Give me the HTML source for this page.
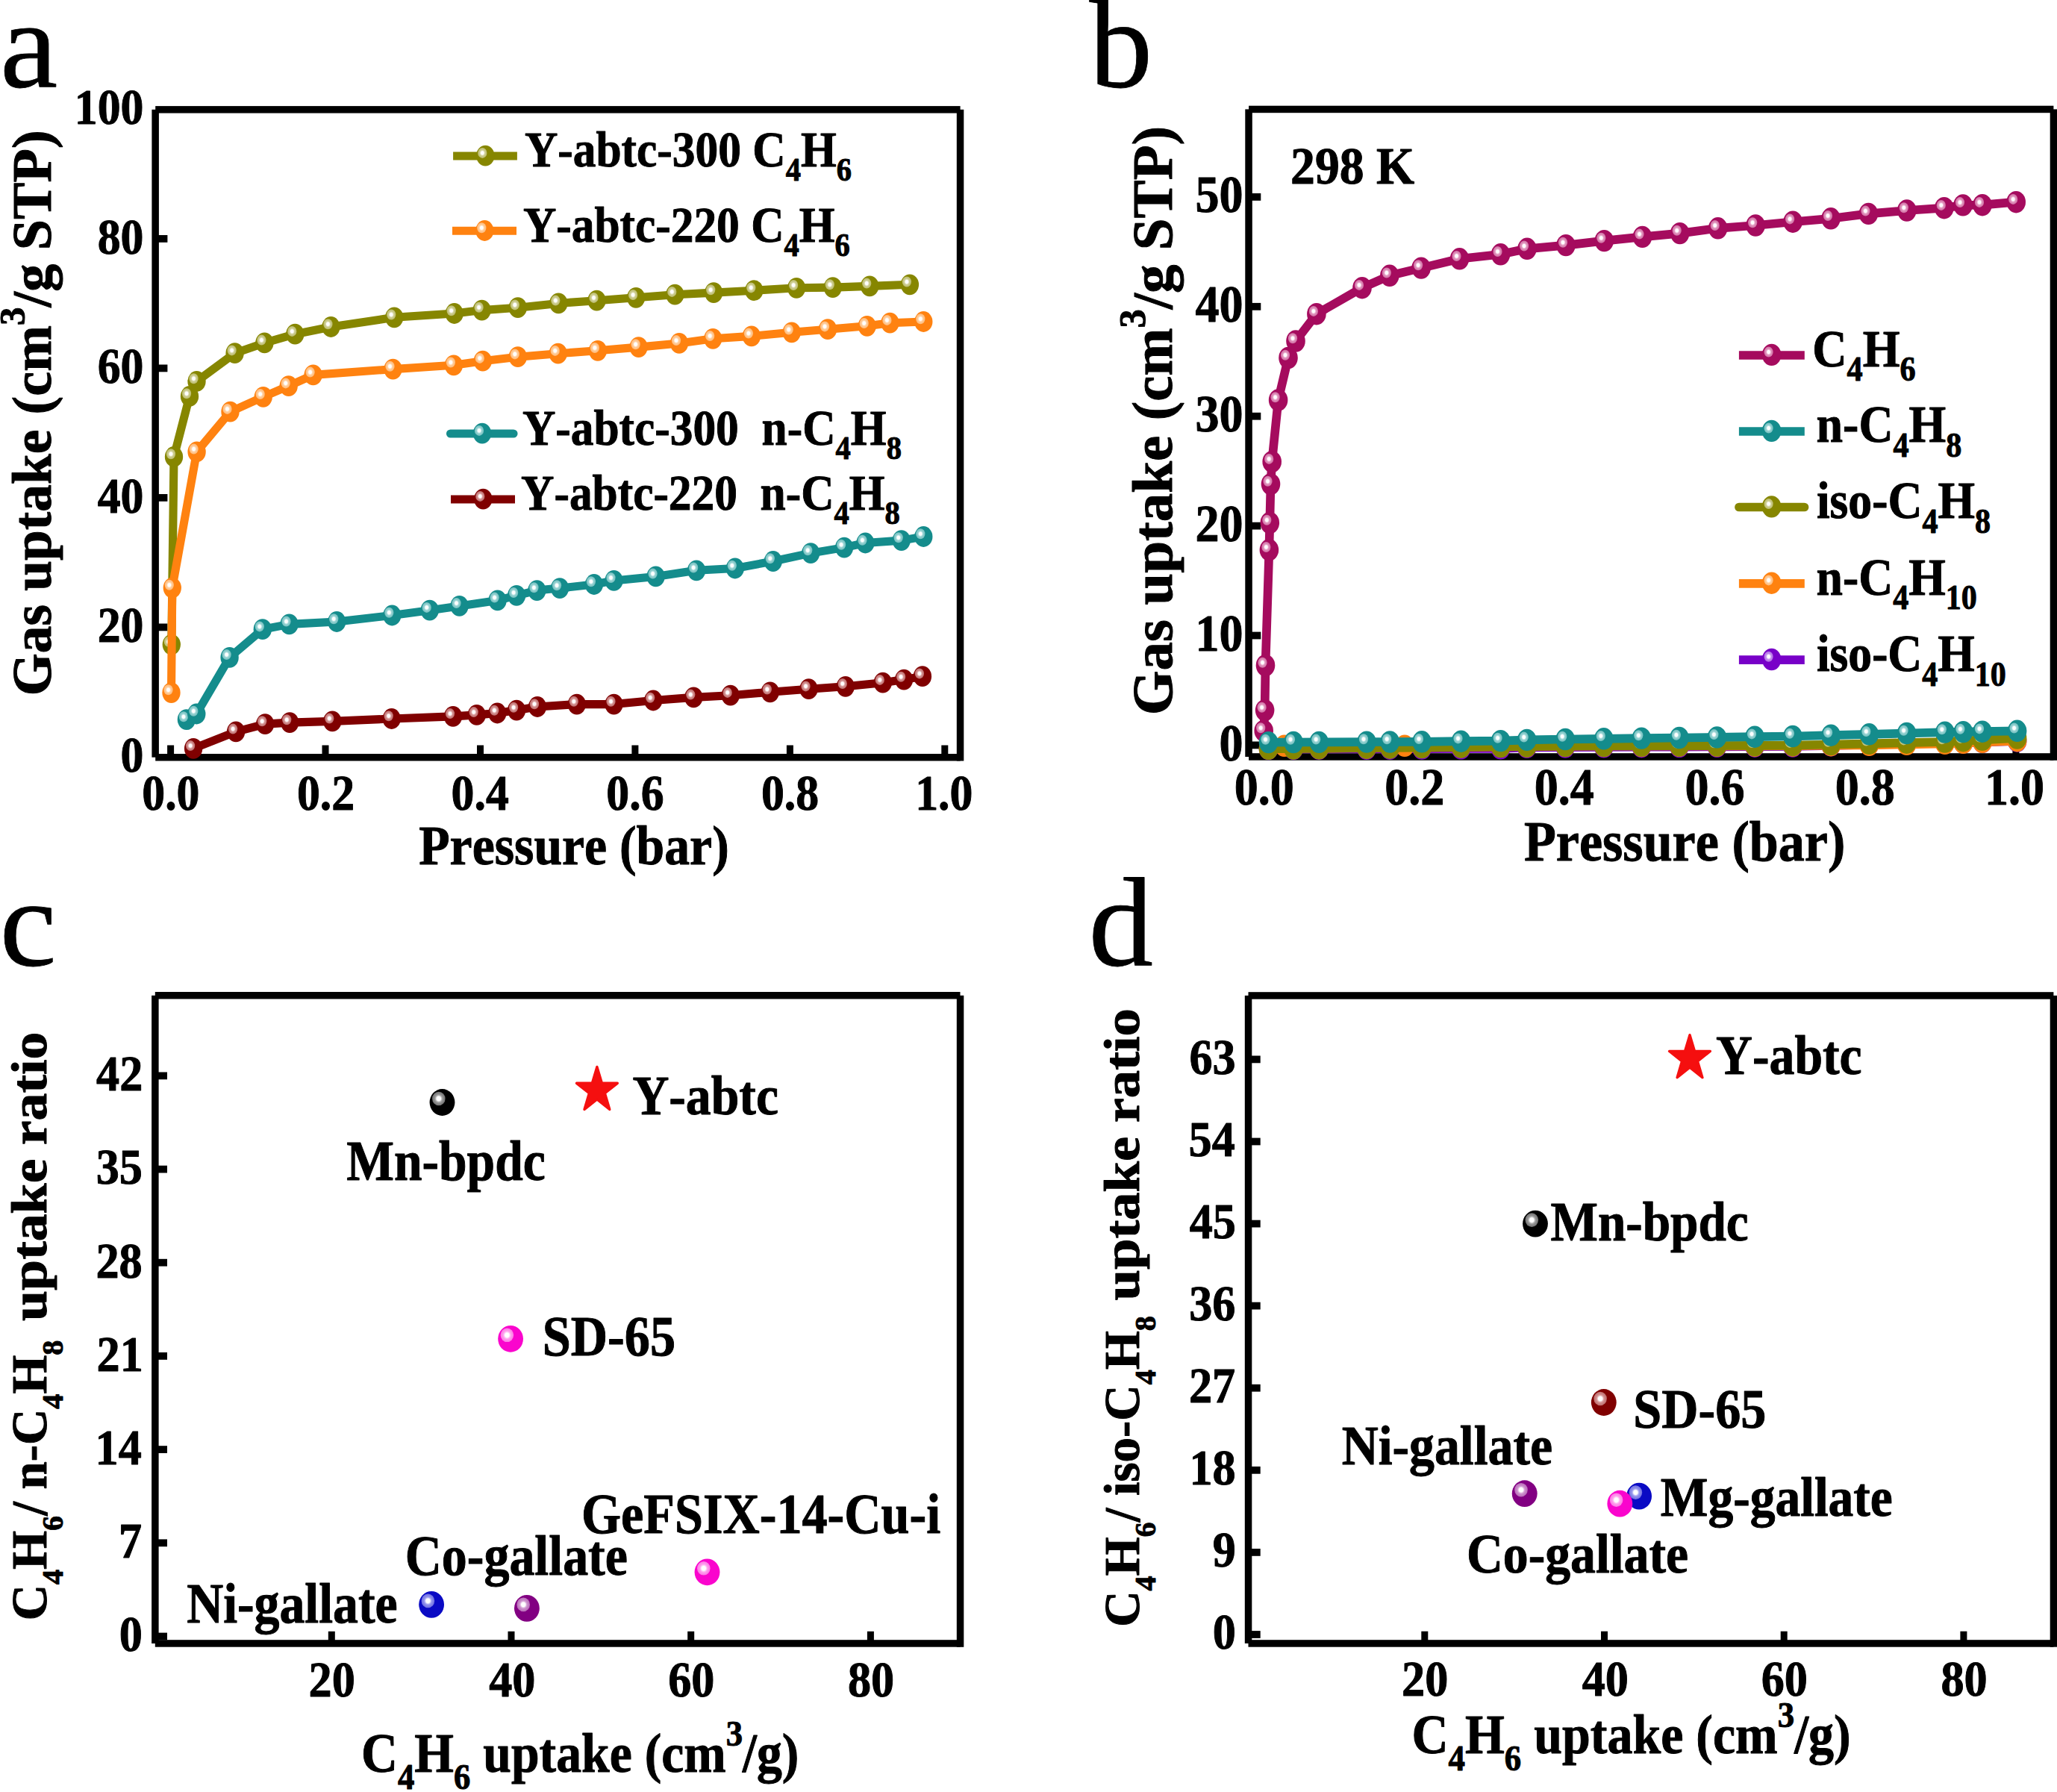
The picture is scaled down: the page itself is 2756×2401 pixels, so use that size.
<!DOCTYPE html>
<html><head><meta charset="utf-8"><title>Figure</title><style>html,body{margin:0;padding:0;background:#fff}svg{display:block}</style></head><body>
<svg width="2756" height="2401" viewBox="0 0 2756 2401">
<rect width="2756" height="2401" fill="#fff"/>
<defs><radialGradient id="g_olive" cx="0.5" cy="0.5" r="0.5"><stop offset="0" stop-color="#ffffff"/><stop offset="0.30" stop-color="#ffffff"/><stop offset="0.50" stop-color="#dcdcb0" stop-opacity="0.95"/><stop offset="0.62" stop-color="#dcdcb0" stop-opacity="0.80"/><stop offset="1" stop-color="#dcdcb0" stop-opacity="0.62"/></radialGradient><radialGradient id="g_orange" cx="0.5" cy="0.5" r="0.5"><stop offset="0" stop-color="#ffffff"/><stop offset="0.30" stop-color="#ffffff"/><stop offset="0.50" stop-color="#ffdcb8" stop-opacity="0.95"/><stop offset="0.62" stop-color="#ffdcb8" stop-opacity="0.80"/><stop offset="1" stop-color="#ffdcb8" stop-opacity="0.62"/></radialGradient><radialGradient id="g_teal" cx="0.5" cy="0.5" r="0.5"><stop offset="0" stop-color="#ffffff"/><stop offset="0.30" stop-color="#ffffff"/><stop offset="0.50" stop-color="#b0e0e0" stop-opacity="0.95"/><stop offset="0.62" stop-color="#b0e0e0" stop-opacity="0.80"/><stop offset="1" stop-color="#b0e0e0" stop-opacity="0.62"/></radialGradient><radialGradient id="g_dred" cx="0.5" cy="0.5" r="0.5"><stop offset="0" stop-color="#ffffff"/><stop offset="0.30" stop-color="#ffffff"/><stop offset="0.50" stop-color="#e4b0b0" stop-opacity="0.95"/><stop offset="0.62" stop-color="#e4b0b0" stop-opacity="0.80"/><stop offset="1" stop-color="#e4b0b0" stop-opacity="0.62"/></radialGradient><radialGradient id="g_mag" cx="0.5" cy="0.5" r="0.5"><stop offset="0" stop-color="#ffffff"/><stop offset="0.30" stop-color="#ffffff"/><stop offset="0.50" stop-color="#ecb0d0" stop-opacity="0.95"/><stop offset="0.62" stop-color="#ecb0d0" stop-opacity="0.80"/><stop offset="1" stop-color="#ecb0d0" stop-opacity="0.62"/></radialGradient><radialGradient id="g_purple" cx="0.5" cy="0.5" r="0.5"><stop offset="0" stop-color="#ffffff"/><stop offset="0.30" stop-color="#ffffff"/><stop offset="0.50" stop-color="#d4b0f4" stop-opacity="0.95"/><stop offset="0.62" stop-color="#d4b0f4" stop-opacity="0.80"/><stop offset="1" stop-color="#d4b0f4" stop-opacity="0.62"/></radialGradient><radialGradient id="g_black" cx="0.5" cy="0.5" r="0.5"><stop offset="0" stop-color="#ffffff"/><stop offset="0.30" stop-color="#ffffff"/><stop offset="0.50" stop-color="#b8b8b8" stop-opacity="0.95"/><stop offset="0.62" stop-color="#b8b8b8" stop-opacity="0.80"/><stop offset="1" stop-color="#b8b8b8" stop-opacity="0.62"/></radialGradient><radialGradient id="g_pink" cx="0.5" cy="0.5" r="0.5"><stop offset="0" stop-color="#ffffff"/><stop offset="0.30" stop-color="#ffffff"/><stop offset="0.50" stop-color="#ffc0f4" stop-opacity="0.95"/><stop offset="0.62" stop-color="#ffc0f4" stop-opacity="0.80"/><stop offset="1" stop-color="#ffc0f4" stop-opacity="0.62"/></radialGradient><radialGradient id="g_blue" cx="0.5" cy="0.5" r="0.5"><stop offset="0" stop-color="#ffffff"/><stop offset="0.30" stop-color="#ffffff"/><stop offset="0.50" stop-color="#b0b0f4" stop-opacity="0.95"/><stop offset="0.62" stop-color="#b0b0f4" stop-opacity="0.80"/><stop offset="1" stop-color="#b0b0f4" stop-opacity="0.62"/></radialGradient><radialGradient id="g_violet" cx="0.5" cy="0.5" r="0.5"><stop offset="0" stop-color="#ffffff"/><stop offset="0.30" stop-color="#ffffff"/><stop offset="0.50" stop-color="#dcb0dc" stop-opacity="0.95"/><stop offset="0.62" stop-color="#dcb0dc" stop-opacity="0.80"/><stop offset="1" stop-color="#dcb0dc" stop-opacity="0.62"/></radialGradient></defs>
<rect x="208.2" y="835.5" width="16.2" height="9.8" fill="#000"/>
<rect x="208.2" y="662.0" width="16.2" height="9.8" fill="#000"/>
<rect x="208.2" y="488.5" width="16.2" height="9.8" fill="#000"/>
<rect x="208.2" y="315.0" width="16.2" height="9.8" fill="#000"/>
<rect x="224.1" y="998.5" width="9.0" height="16.2" fill="#000"/>
<rect x="431.5" y="998.5" width="9.0" height="16.2" fill="#000"/>
<rect x="639.0" y="998.5" width="9.0" height="16.2" fill="#000"/>
<rect x="846.4" y="998.5" width="9.0" height="16.2" fill="#000"/>
<rect x="1053.9" y="998.5" width="9.0" height="16.2" fill="#000"/>
<rect x="1261.3" y="998.5" width="9.0" height="16.2" fill="#000"/>
<rect x="203.4" y="146.8" width="9.5" height="867.9" fill="#000"/><rect x="1281.8" y="146.8" width="9.5" height="872.7" fill="#000"/><rect x="208.2" y="142.1" width="1078.4" height="9.5" fill="#000"/><rect x="208.2" y="1010.0" width="1078.4" height="9.5" fill="#000"/>
<polyline points="259.1,1002.9 316.1,980.4 355.2,970.1 388.2,968.1 445.3,966.4 524.7,963.0 607.0,959.9 638.7,957.9 666.3,955.5 692.1,951.6 720.0,947.0 772.8,943.6 822.5,943.6 875.2,938.5 929.3,934.4 978.7,931.7 1031.8,927.3 1083.5,923.2 1132.8,919.8 1182.8,914.7 1211.1,910.6 1235.9,906.2" fill="none" stroke="#800000" stroke-width="11.1" stroke-linejoin="round" stroke-linecap="butt"/>
<ellipse cx="259.1" cy="1002.9" rx="12.16" ry="13.9" fill="#800000"/><ellipse cx="255.1" cy="999.1" rx="6.12" ry="7.0" fill="url(#g_dred)"/>
<ellipse cx="316.1" cy="980.4" rx="12.16" ry="13.9" fill="#800000"/><ellipse cx="312.1" cy="976.6" rx="6.12" ry="7.0" fill="url(#g_dred)"/>
<ellipse cx="355.2" cy="970.1" rx="12.16" ry="13.9" fill="#800000"/><ellipse cx="351.2" cy="966.3" rx="6.12" ry="7.0" fill="url(#g_dred)"/>
<ellipse cx="388.2" cy="968.1" rx="12.16" ry="13.9" fill="#800000"/><ellipse cx="384.2" cy="964.3" rx="6.12" ry="7.0" fill="url(#g_dred)"/>
<ellipse cx="445.3" cy="966.4" rx="12.16" ry="13.9" fill="#800000"/><ellipse cx="441.3" cy="962.6" rx="6.12" ry="7.0" fill="url(#g_dred)"/>
<ellipse cx="524.7" cy="963.0" rx="12.16" ry="13.9" fill="#800000"/><ellipse cx="520.7" cy="959.2" rx="6.12" ry="7.0" fill="url(#g_dred)"/>
<ellipse cx="607.0" cy="959.9" rx="12.16" ry="13.9" fill="#800000"/><ellipse cx="603.0" cy="956.1" rx="6.12" ry="7.0" fill="url(#g_dred)"/>
<ellipse cx="638.7" cy="957.9" rx="12.16" ry="13.9" fill="#800000"/><ellipse cx="634.7" cy="954.1" rx="6.12" ry="7.0" fill="url(#g_dred)"/>
<ellipse cx="666.3" cy="955.5" rx="12.16" ry="13.9" fill="#800000"/><ellipse cx="662.3" cy="951.7" rx="6.12" ry="7.0" fill="url(#g_dred)"/>
<ellipse cx="692.1" cy="951.6" rx="12.16" ry="13.9" fill="#800000"/><ellipse cx="688.1" cy="947.8" rx="6.12" ry="7.0" fill="url(#g_dred)"/>
<ellipse cx="720.0" cy="947.0" rx="12.16" ry="13.9" fill="#800000"/><ellipse cx="716.0" cy="943.2" rx="6.12" ry="7.0" fill="url(#g_dred)"/>
<ellipse cx="772.8" cy="943.6" rx="12.16" ry="13.9" fill="#800000"/><ellipse cx="768.8" cy="939.8" rx="6.12" ry="7.0" fill="url(#g_dred)"/>
<ellipse cx="822.5" cy="943.6" rx="12.16" ry="13.9" fill="#800000"/><ellipse cx="818.5" cy="939.8" rx="6.12" ry="7.0" fill="url(#g_dred)"/>
<ellipse cx="875.2" cy="938.5" rx="12.16" ry="13.9" fill="#800000"/><ellipse cx="871.2" cy="934.7" rx="6.12" ry="7.0" fill="url(#g_dred)"/>
<ellipse cx="929.3" cy="934.4" rx="12.16" ry="13.9" fill="#800000"/><ellipse cx="925.3" cy="930.6" rx="6.12" ry="7.0" fill="url(#g_dred)"/>
<ellipse cx="978.7" cy="931.7" rx="12.16" ry="13.9" fill="#800000"/><ellipse cx="974.7" cy="927.9" rx="6.12" ry="7.0" fill="url(#g_dred)"/>
<ellipse cx="1031.8" cy="927.3" rx="12.16" ry="13.9" fill="#800000"/><ellipse cx="1027.8" cy="923.5" rx="6.12" ry="7.0" fill="url(#g_dred)"/>
<ellipse cx="1083.5" cy="923.2" rx="12.16" ry="13.9" fill="#800000"/><ellipse cx="1079.5" cy="919.4" rx="6.12" ry="7.0" fill="url(#g_dred)"/>
<ellipse cx="1132.8" cy="919.8" rx="12.16" ry="13.9" fill="#800000"/><ellipse cx="1128.8" cy="916.0" rx="6.12" ry="7.0" fill="url(#g_dred)"/>
<ellipse cx="1182.8" cy="914.7" rx="12.16" ry="13.9" fill="#800000"/><ellipse cx="1178.8" cy="910.9" rx="6.12" ry="7.0" fill="url(#g_dred)"/>
<ellipse cx="1211.1" cy="910.6" rx="12.16" ry="13.9" fill="#800000"/><ellipse cx="1207.1" cy="906.8" rx="6.12" ry="7.0" fill="url(#g_dred)"/>
<ellipse cx="1235.9" cy="906.2" rx="12.16" ry="13.9" fill="#800000"/><ellipse cx="1231.9" cy="902.4" rx="6.12" ry="7.0" fill="url(#g_dred)"/>
<polyline points="249.9,964.1 263.3,956.5 307.6,880.9 351.8,843.2 387.5,836.4 451.2,833.0 525.3,824.5 575.7,817.7 615.5,811.9 666.6,804.4 692.1,797.8 719.4,791.1 750.0,788.1 795.9,783.0 822.5,777.9 878.6,772.4 933.1,764.3 984.8,761.5 1035.8,752.0 1086.2,741.1 1131.1,733.6 1159.4,727.5 1207.7,724.1 1237.3,719.0" fill="none" stroke="#148c8c" stroke-width="11.1" stroke-linejoin="round" stroke-linecap="butt"/>
<ellipse cx="249.9" cy="964.1" rx="12.16" ry="13.9" fill="#148c8c"/><ellipse cx="245.9" cy="960.3" rx="6.12" ry="7.0" fill="url(#g_teal)"/>
<ellipse cx="263.3" cy="956.5" rx="12.16" ry="13.9" fill="#148c8c"/><ellipse cx="259.3" cy="952.7" rx="6.12" ry="7.0" fill="url(#g_teal)"/>
<ellipse cx="307.6" cy="880.9" rx="12.16" ry="13.9" fill="#148c8c"/><ellipse cx="303.6" cy="877.1" rx="6.12" ry="7.0" fill="url(#g_teal)"/>
<ellipse cx="351.8" cy="843.2" rx="12.16" ry="13.9" fill="#148c8c"/><ellipse cx="347.8" cy="839.4" rx="6.12" ry="7.0" fill="url(#g_teal)"/>
<ellipse cx="387.5" cy="836.4" rx="12.16" ry="13.9" fill="#148c8c"/><ellipse cx="383.5" cy="832.6" rx="6.12" ry="7.0" fill="url(#g_teal)"/>
<ellipse cx="451.2" cy="833.0" rx="12.16" ry="13.9" fill="#148c8c"/><ellipse cx="447.2" cy="829.2" rx="6.12" ry="7.0" fill="url(#g_teal)"/>
<ellipse cx="525.3" cy="824.5" rx="12.16" ry="13.9" fill="#148c8c"/><ellipse cx="521.3" cy="820.7" rx="6.12" ry="7.0" fill="url(#g_teal)"/>
<ellipse cx="575.7" cy="817.7" rx="12.16" ry="13.9" fill="#148c8c"/><ellipse cx="571.7" cy="813.9" rx="6.12" ry="7.0" fill="url(#g_teal)"/>
<ellipse cx="615.5" cy="811.9" rx="12.16" ry="13.9" fill="#148c8c"/><ellipse cx="611.5" cy="808.1" rx="6.12" ry="7.0" fill="url(#g_teal)"/>
<ellipse cx="666.6" cy="804.4" rx="12.16" ry="13.9" fill="#148c8c"/><ellipse cx="662.6" cy="800.6" rx="6.12" ry="7.0" fill="url(#g_teal)"/>
<ellipse cx="692.1" cy="797.8" rx="12.16" ry="13.9" fill="#148c8c"/><ellipse cx="688.1" cy="794.0" rx="6.12" ry="7.0" fill="url(#g_teal)"/>
<ellipse cx="719.4" cy="791.1" rx="12.16" ry="13.9" fill="#148c8c"/><ellipse cx="715.4" cy="787.3" rx="6.12" ry="7.0" fill="url(#g_teal)"/>
<ellipse cx="750.0" cy="788.1" rx="12.16" ry="13.9" fill="#148c8c"/><ellipse cx="746.0" cy="784.3" rx="6.12" ry="7.0" fill="url(#g_teal)"/>
<ellipse cx="795.9" cy="783.0" rx="12.16" ry="13.9" fill="#148c8c"/><ellipse cx="791.9" cy="779.2" rx="6.12" ry="7.0" fill="url(#g_teal)"/>
<ellipse cx="822.5" cy="777.9" rx="12.16" ry="13.9" fill="#148c8c"/><ellipse cx="818.5" cy="774.1" rx="6.12" ry="7.0" fill="url(#g_teal)"/>
<ellipse cx="878.6" cy="772.4" rx="12.16" ry="13.9" fill="#148c8c"/><ellipse cx="874.6" cy="768.6" rx="6.12" ry="7.0" fill="url(#g_teal)"/>
<ellipse cx="933.1" cy="764.3" rx="12.16" ry="13.9" fill="#148c8c"/><ellipse cx="929.1" cy="760.5" rx="6.12" ry="7.0" fill="url(#g_teal)"/>
<ellipse cx="984.8" cy="761.5" rx="12.16" ry="13.9" fill="#148c8c"/><ellipse cx="980.8" cy="757.7" rx="6.12" ry="7.0" fill="url(#g_teal)"/>
<ellipse cx="1035.8" cy="752.0" rx="12.16" ry="13.9" fill="#148c8c"/><ellipse cx="1031.8" cy="748.2" rx="6.12" ry="7.0" fill="url(#g_teal)"/>
<ellipse cx="1086.2" cy="741.1" rx="12.16" ry="13.9" fill="#148c8c"/><ellipse cx="1082.2" cy="737.3" rx="6.12" ry="7.0" fill="url(#g_teal)"/>
<ellipse cx="1131.1" cy="733.6" rx="12.16" ry="13.9" fill="#148c8c"/><ellipse cx="1127.1" cy="729.8" rx="6.12" ry="7.0" fill="url(#g_teal)"/>
<ellipse cx="1159.4" cy="727.5" rx="12.16" ry="13.9" fill="#148c8c"/><ellipse cx="1155.4" cy="723.7" rx="6.12" ry="7.0" fill="url(#g_teal)"/>
<ellipse cx="1207.7" cy="724.1" rx="12.16" ry="13.9" fill="#148c8c"/><ellipse cx="1203.7" cy="720.3" rx="6.12" ry="7.0" fill="url(#g_teal)"/>
<ellipse cx="1237.3" cy="719.0" rx="12.16" ry="13.9" fill="#148c8c"/><ellipse cx="1233.3" cy="715.2" rx="6.12" ry="7.0" fill="url(#g_teal)"/>
<polyline points="229.8,863.6 233.0,612.0 254.0,531.0 263.5,511.0 314.6,473.2 354.4,459.4 395.3,447.7 443.4,438.0 528.2,425.3 608.7,420.0 645.6,415.6 693.8,412.2 748.3,406.4 799.5,402.7 852.1,398.8 904.3,394.7 956.2,392.1 1010.3,389.2 1067.1,385.8 1115.8,385.1 1165.2,383.4 1218.9,381.3" fill="none" stroke="#868600" stroke-width="11.1" stroke-linejoin="round" stroke-linecap="butt"/>
<ellipse cx="229.8" cy="863.6" rx="12.16" ry="13.9" fill="#868600"/><ellipse cx="225.8" cy="859.8" rx="6.12" ry="7.0" fill="url(#g_olive)"/>
<ellipse cx="233.0" cy="612.0" rx="12.16" ry="13.9" fill="#868600"/><ellipse cx="229.0" cy="608.2" rx="6.12" ry="7.0" fill="url(#g_olive)"/>
<ellipse cx="254.0" cy="531.0" rx="12.16" ry="13.9" fill="#868600"/><ellipse cx="250.0" cy="527.2" rx="6.12" ry="7.0" fill="url(#g_olive)"/>
<ellipse cx="263.5" cy="511.0" rx="12.16" ry="13.9" fill="#868600"/><ellipse cx="259.5" cy="507.2" rx="6.12" ry="7.0" fill="url(#g_olive)"/>
<ellipse cx="314.6" cy="473.2" rx="12.16" ry="13.9" fill="#868600"/><ellipse cx="310.6" cy="469.4" rx="6.12" ry="7.0" fill="url(#g_olive)"/>
<ellipse cx="354.4" cy="459.4" rx="12.16" ry="13.9" fill="#868600"/><ellipse cx="350.4" cy="455.6" rx="6.12" ry="7.0" fill="url(#g_olive)"/>
<ellipse cx="395.3" cy="447.7" rx="12.16" ry="13.9" fill="#868600"/><ellipse cx="391.3" cy="443.9" rx="6.12" ry="7.0" fill="url(#g_olive)"/>
<ellipse cx="443.4" cy="438.0" rx="12.16" ry="13.9" fill="#868600"/><ellipse cx="439.4" cy="434.2" rx="6.12" ry="7.0" fill="url(#g_olive)"/>
<ellipse cx="528.2" cy="425.3" rx="12.16" ry="13.9" fill="#868600"/><ellipse cx="524.2" cy="421.5" rx="6.12" ry="7.0" fill="url(#g_olive)"/>
<ellipse cx="608.7" cy="420.0" rx="12.16" ry="13.9" fill="#868600"/><ellipse cx="604.7" cy="416.2" rx="6.12" ry="7.0" fill="url(#g_olive)"/>
<ellipse cx="645.6" cy="415.6" rx="12.16" ry="13.9" fill="#868600"/><ellipse cx="641.6" cy="411.8" rx="6.12" ry="7.0" fill="url(#g_olive)"/>
<ellipse cx="693.8" cy="412.2" rx="12.16" ry="13.9" fill="#868600"/><ellipse cx="689.8" cy="408.4" rx="6.12" ry="7.0" fill="url(#g_olive)"/>
<ellipse cx="748.3" cy="406.4" rx="12.16" ry="13.9" fill="#868600"/><ellipse cx="744.3" cy="402.6" rx="6.12" ry="7.0" fill="url(#g_olive)"/>
<ellipse cx="799.5" cy="402.7" rx="12.16" ry="13.9" fill="#868600"/><ellipse cx="795.5" cy="398.9" rx="6.12" ry="7.0" fill="url(#g_olive)"/>
<ellipse cx="852.1" cy="398.8" rx="12.16" ry="13.9" fill="#868600"/><ellipse cx="848.1" cy="395.0" rx="6.12" ry="7.0" fill="url(#g_olive)"/>
<ellipse cx="904.3" cy="394.7" rx="12.16" ry="13.9" fill="#868600"/><ellipse cx="900.3" cy="390.9" rx="6.12" ry="7.0" fill="url(#g_olive)"/>
<ellipse cx="956.2" cy="392.1" rx="12.16" ry="13.9" fill="#868600"/><ellipse cx="952.2" cy="388.3" rx="6.12" ry="7.0" fill="url(#g_olive)"/>
<ellipse cx="1010.3" cy="389.2" rx="12.16" ry="13.9" fill="#868600"/><ellipse cx="1006.3" cy="385.4" rx="6.12" ry="7.0" fill="url(#g_olive)"/>
<ellipse cx="1067.1" cy="385.8" rx="12.16" ry="13.9" fill="#868600"/><ellipse cx="1063.1" cy="382.0" rx="6.12" ry="7.0" fill="url(#g_olive)"/>
<ellipse cx="1115.8" cy="385.1" rx="12.16" ry="13.9" fill="#868600"/><ellipse cx="1111.8" cy="381.3" rx="6.12" ry="7.0" fill="url(#g_olive)"/>
<ellipse cx="1165.2" cy="383.4" rx="12.16" ry="13.9" fill="#868600"/><ellipse cx="1161.2" cy="379.6" rx="6.12" ry="7.0" fill="url(#g_olive)"/>
<ellipse cx="1218.9" cy="381.3" rx="12.16" ry="13.9" fill="#868600"/><ellipse cx="1214.9" cy="377.5" rx="6.12" ry="7.0" fill="url(#g_olive)"/>
<polyline points="229.5,928.1 230.8,787.6 263.6,605.4 308.5,551.7 352.7,531.8 386.7,517.2 419.6,502.4 526.5,494.6 607.9,489.3 646.8,483.7 693.8,478.2 747.7,473.7 800.9,469.8 855.6,465.1 910.0,459.9 955.2,453.8 1006.9,450.4 1060.7,445.3 1109.0,441.2 1161.7,436.8 1192.4,432.7 1237.3,431.0" fill="none" stroke="#ff8210" stroke-width="11.1" stroke-linejoin="round" stroke-linecap="butt"/>
<ellipse cx="229.5" cy="928.1" rx="12.16" ry="13.9" fill="#ff8210"/><ellipse cx="225.5" cy="924.3" rx="6.12" ry="7.0" fill="url(#g_orange)"/>
<ellipse cx="230.8" cy="787.6" rx="12.16" ry="13.9" fill="#ff8210"/><ellipse cx="226.8" cy="783.8" rx="6.12" ry="7.0" fill="url(#g_orange)"/>
<ellipse cx="263.6" cy="605.4" rx="12.16" ry="13.9" fill="#ff8210"/><ellipse cx="259.6" cy="601.6" rx="6.12" ry="7.0" fill="url(#g_orange)"/>
<ellipse cx="308.5" cy="551.7" rx="12.16" ry="13.9" fill="#ff8210"/><ellipse cx="304.5" cy="547.9" rx="6.12" ry="7.0" fill="url(#g_orange)"/>
<ellipse cx="352.7" cy="531.8" rx="12.16" ry="13.9" fill="#ff8210"/><ellipse cx="348.7" cy="528.0" rx="6.12" ry="7.0" fill="url(#g_orange)"/>
<ellipse cx="386.7" cy="517.2" rx="12.16" ry="13.9" fill="#ff8210"/><ellipse cx="382.7" cy="513.4" rx="6.12" ry="7.0" fill="url(#g_orange)"/>
<ellipse cx="419.6" cy="502.4" rx="12.16" ry="13.9" fill="#ff8210"/><ellipse cx="415.6" cy="498.6" rx="6.12" ry="7.0" fill="url(#g_orange)"/>
<ellipse cx="526.5" cy="494.6" rx="12.16" ry="13.9" fill="#ff8210"/><ellipse cx="522.5" cy="490.8" rx="6.12" ry="7.0" fill="url(#g_orange)"/>
<ellipse cx="607.9" cy="489.3" rx="12.16" ry="13.9" fill="#ff8210"/><ellipse cx="603.9" cy="485.5" rx="6.12" ry="7.0" fill="url(#g_orange)"/>
<ellipse cx="646.8" cy="483.7" rx="12.16" ry="13.9" fill="#ff8210"/><ellipse cx="642.8" cy="479.9" rx="6.12" ry="7.0" fill="url(#g_orange)"/>
<ellipse cx="693.8" cy="478.2" rx="12.16" ry="13.9" fill="#ff8210"/><ellipse cx="689.8" cy="474.4" rx="6.12" ry="7.0" fill="url(#g_orange)"/>
<ellipse cx="747.7" cy="473.7" rx="12.16" ry="13.9" fill="#ff8210"/><ellipse cx="743.7" cy="469.9" rx="6.12" ry="7.0" fill="url(#g_orange)"/>
<ellipse cx="800.9" cy="469.8" rx="12.16" ry="13.9" fill="#ff8210"/><ellipse cx="796.9" cy="466.0" rx="6.12" ry="7.0" fill="url(#g_orange)"/>
<ellipse cx="855.6" cy="465.1" rx="12.16" ry="13.9" fill="#ff8210"/><ellipse cx="851.6" cy="461.3" rx="6.12" ry="7.0" fill="url(#g_orange)"/>
<ellipse cx="910.0" cy="459.9" rx="12.16" ry="13.9" fill="#ff8210"/><ellipse cx="906.0" cy="456.1" rx="6.12" ry="7.0" fill="url(#g_orange)"/>
<ellipse cx="955.2" cy="453.8" rx="12.16" ry="13.9" fill="#ff8210"/><ellipse cx="951.2" cy="450.0" rx="6.12" ry="7.0" fill="url(#g_orange)"/>
<ellipse cx="1006.9" cy="450.4" rx="12.16" ry="13.9" fill="#ff8210"/><ellipse cx="1002.9" cy="446.6" rx="6.12" ry="7.0" fill="url(#g_orange)"/>
<ellipse cx="1060.7" cy="445.3" rx="12.16" ry="13.9" fill="#ff8210"/><ellipse cx="1056.7" cy="441.5" rx="6.12" ry="7.0" fill="url(#g_orange)"/>
<ellipse cx="1109.0" cy="441.2" rx="12.16" ry="13.9" fill="#ff8210"/><ellipse cx="1105.0" cy="437.4" rx="6.12" ry="7.0" fill="url(#g_orange)"/>
<ellipse cx="1161.7" cy="436.8" rx="12.16" ry="13.9" fill="#ff8210"/><ellipse cx="1157.7" cy="433.0" rx="6.12" ry="7.0" fill="url(#g_orange)"/>
<ellipse cx="1192.4" cy="432.7" rx="12.16" ry="13.9" fill="#ff8210"/><ellipse cx="1188.4" cy="428.9" rx="6.12" ry="7.0" fill="url(#g_orange)"/>
<ellipse cx="1237.3" cy="431.0" rx="12.16" ry="13.9" fill="#ff8210"/><ellipse cx="1233.3" cy="427.2" rx="6.12" ry="7.0" fill="url(#g_orange)"/>
<g transform="translate(161.57,1033.90) scale(0.9150,1.0)" font-family="'Liberation Serif', serif" font-weight="bold" fill="#000" stroke="#000" stroke-width="1.0" stroke-linejoin="round" style="font-kerning:none;font-variant-ligatures:none;"><text x="0.00" y="0.00" font-size="67.50">0</text></g>
<g transform="translate(130.69,860.40) scale(0.9150,1.0)" font-family="'Liberation Serif', serif" font-weight="bold" fill="#000" stroke="#000" stroke-width="1.0" stroke-linejoin="round" style="font-kerning:none;font-variant-ligatures:none;"><text x="0.00" y="0.00" font-size="67.50">20</text></g>
<g transform="translate(130.69,686.90) scale(0.9150,1.0)" font-family="'Liberation Serif', serif" font-weight="bold" fill="#000" stroke="#000" stroke-width="1.0" stroke-linejoin="round" style="font-kerning:none;font-variant-ligatures:none;"><text x="0.00" y="0.00" font-size="67.50">40</text></g>
<g transform="translate(130.69,513.40) scale(0.9150,1.0)" font-family="'Liberation Serif', serif" font-weight="bold" fill="#000" stroke="#000" stroke-width="1.0" stroke-linejoin="round" style="font-kerning:none;font-variant-ligatures:none;"><text x="0.00" y="0.00" font-size="67.50">60</text></g>
<g transform="translate(130.69,339.90) scale(0.9150,1.0)" font-family="'Liberation Serif', serif" font-weight="bold" fill="#000" stroke="#000" stroke-width="1.0" stroke-linejoin="round" style="font-kerning:none;font-variant-ligatures:none;"><text x="0.00" y="0.00" font-size="67.50">80</text></g>
<g transform="translate(99.81,166.40) scale(0.9150,1.0)" font-family="'Liberation Serif', serif" font-weight="bold" fill="#000" stroke="#000" stroke-width="1.0" stroke-linejoin="round" style="font-kerning:none;font-variant-ligatures:none;"><text x="0.00" y="0.00" font-size="67.50">100</text></g>
<g transform="translate(190.30,1085.20) scale(0.9150,1.0)" font-family="'Liberation Serif', serif" font-weight="bold" fill="#000" stroke="#000" stroke-width="1.0" stroke-linejoin="round" style="font-kerning:none;font-variant-ligatures:none;"><text x="0.00" y="0.00" font-size="67.50">0.0</text></g>
<g transform="translate(397.89,1085.20) scale(0.9150,1.0)" font-family="'Liberation Serif', serif" font-weight="bold" fill="#000" stroke="#000" stroke-width="1.0" stroke-linejoin="round" style="font-kerning:none;font-variant-ligatures:none;"><text x="0.00" y="0.00" font-size="67.50">0.2</text></g>
<g transform="translate(604.58,1085.20) scale(0.9150,1.0)" font-family="'Liberation Serif', serif" font-weight="bold" fill="#000" stroke="#000" stroke-width="1.0" stroke-linejoin="round" style="font-kerning:none;font-variant-ligatures:none;"><text x="0.00" y="0.00" font-size="67.50">0.4</text></g>
<g transform="translate(812.35,1085.20) scale(0.9150,1.0)" font-family="'Liberation Serif', serif" font-weight="bold" fill="#000" stroke="#000" stroke-width="1.0" stroke-linejoin="round" style="font-kerning:none;font-variant-ligatures:none;"><text x="0.00" y="0.00" font-size="67.50">0.6</text></g>
<g transform="translate(1019.91,1085.20) scale(0.9150,1.0)" font-family="'Liberation Serif', serif" font-weight="bold" fill="#000" stroke="#000" stroke-width="1.0" stroke-linejoin="round" style="font-kerning:none;font-variant-ligatures:none;"><text x="0.00" y="0.00" font-size="67.50">0.8</text></g>
<g transform="translate(1226.20,1085.20) scale(0.9150,1.0)" font-family="'Liberation Serif', serif" font-weight="bold" fill="#000" stroke="#000" stroke-width="1.0" stroke-linejoin="round" style="font-kerning:none;font-variant-ligatures:none;"><text x="0.00" y="0.00" font-size="67.50">1.0</text></g>
<g transform="translate(561.24,1157.50) scale(0.9089,1.0)" font-family="'Liberation Serif', serif" font-weight="bold" fill="#000" stroke="#000" stroke-width="1.0" stroke-linejoin="round" style="font-kerning:none;font-variant-ligatures:none;"><text x="0.00" y="0.00" font-size="74.50">Pressure&#160;(bar)</text></g>
<g transform="translate(67.50,932.28) rotate(-90) scale(1.0049,1.0)" font-family="'Liberation Serif', serif" font-weight="bold" fill="#000" stroke="#000" stroke-width="1.0" stroke-linejoin="round" style="font-kerning:none;font-variant-ligatures:none;"><text x="0.00" y="0.00" font-size="73.00">Gas&#160;uptake</text></g>
<g transform="translate(67.50,555.46) rotate(-90) scale(1.0168,1.0)" font-family="'Liberation Serif', serif" font-weight="bold" fill="#000" stroke="#000" stroke-width="1.0" stroke-linejoin="round" style="font-kerning:none;font-variant-ligatures:none;"><text x="0.00" y="0.00" font-size="73.00">(cm</text><text x="117.52" y="-34.31" font-size="48.18">3</text><text x="141.61" y="0.00" font-size="73.00">/g&#160;STP)</text></g>
<g transform="translate(702.92,222.80) scale(0.9076,1.0)" font-family="'Liberation Serif', serif" font-weight="bold" fill="#000" stroke="#000" stroke-width="1.0" stroke-linejoin="round" style="font-kerning:none;font-variant-ligatures:none;"><text x="0.00" y="0.00" font-size="67.70">Y-abtc-300&#160;</text><text x="336.55" y="0.00" font-size="67.70">C</text><text x="385.44" y="18.96" font-size="44.68">4</text><text x="407.78" y="0.00" font-size="67.70">H</text><text x="460.44" y="18.96" font-size="44.68">6</text></g>
<g transform="translate(701.02,323.80) scale(0.9068,1.0)" font-family="'Liberation Serif', serif" font-weight="bold" fill="#000" stroke="#000" stroke-width="1.0" stroke-linejoin="round" style="font-kerning:none;font-variant-ligatures:none;"><text x="0.00" y="0.00" font-size="67.70">Y-abtc-220&#160;</text><text x="336.55" y="0.00" font-size="67.70">C</text><text x="385.44" y="18.96" font-size="44.68">4</text><text x="407.78" y="0.00" font-size="67.70">H</text><text x="460.44" y="18.96" font-size="44.68">6</text></g>
<g transform="translate(699.92,595.60) scale(0.9073,1.0)" font-family="'Liberation Serif', serif" font-weight="bold" fill="#000" stroke="#000" stroke-width="1.0" stroke-linejoin="round" style="font-kerning:none;font-variant-ligatures:none;"><text x="0.00" y="0.00" font-size="67.70">Y-abtc-300&#160;&#160;n-</text><text x="413.67" y="0.00" font-size="67.70">C</text><text x="462.56" y="18.96" font-size="44.68">4</text><text x="484.90" y="0.00" font-size="67.70">H</text><text x="537.56" y="18.96" font-size="44.68">8</text></g>
<g transform="translate(698.12,682.80) scale(0.9068,1.0)" font-family="'Liberation Serif', serif" font-weight="bold" fill="#000" stroke="#000" stroke-width="1.0" stroke-linejoin="round" style="font-kerning:none;font-variant-ligatures:none;"><text x="0.00" y="0.00" font-size="67.70">Y-abtc-220&#160;&#160;n-</text><text x="413.67" y="0.00" font-size="67.70">C</text><text x="462.56" y="18.96" font-size="44.68">4</text><text x="484.90" y="0.00" font-size="67.70">H</text><text x="537.56" y="18.96" font-size="44.68">8</text></g>
<polyline points="607.1,209.0 692.9,209.0" fill="none" stroke="#868600" stroke-width="11.1" stroke-linejoin="round" stroke-linecap="butt"/>
<ellipse cx="650.3" cy="208.7" rx="12.16" ry="13.9" fill="#868600"/><ellipse cx="646.3" cy="204.9" rx="6.12" ry="7.0" fill="url(#g_olive)"/>
<polyline points="606.0,309.3 692.0,309.3" fill="none" stroke="#ff8210" stroke-width="11.1" stroke-linejoin="round" stroke-linecap="butt"/>
<ellipse cx="649.3" cy="309.0" rx="12.16" ry="13.9" fill="#ff8210"/><ellipse cx="645.3" cy="305.2" rx="6.12" ry="7.0" fill="url(#g_orange)"/>
<polyline points="603.5,581.0 688.0,581.0" fill="none" stroke="#148c8c" stroke-width="11.1" stroke-linejoin="round" stroke-linecap="round"/>
<ellipse cx="646.0" cy="580.7" rx="12.16" ry="13.9" fill="#148c8c"/><ellipse cx="642.0" cy="576.9" rx="6.12" ry="7.0" fill="url(#g_teal)"/>
<polyline points="604.0,669.0 690.0,669.0" fill="none" stroke="#800000" stroke-width="11.1" stroke-linejoin="round" stroke-linecap="butt"/>
<ellipse cx="647.3" cy="668.7" rx="12.16" ry="13.9" fill="#800000"/><ellipse cx="643.3" cy="664.9" rx="6.12" ry="7.0" fill="url(#g_dred)"/>
<g transform="translate(0.08,115.90) scale(1.0367,1.0)" font-family="'Liberation Serif', serif" font-weight="normal" fill="#000" stroke="#000" stroke-width="0.8" stroke-linejoin="round" style="font-kerning:none;font-variant-ligatures:none;"><text x="0.00" y="0.00" font-size="168.00">a</text></g>
<rect x="1673.1" y="993.5" width="16.2" height="9.8" fill="#000"/>
<rect x="1673.1" y="846.6" width="16.2" height="9.8" fill="#000"/>
<rect x="1673.1" y="699.7" width="16.2" height="9.8" fill="#000"/>
<rect x="1673.1" y="552.8" width="16.2" height="9.8" fill="#000"/>
<rect x="1673.1" y="405.9" width="16.2" height="9.8" fill="#000"/>
<rect x="1673.1" y="259.0" width="16.2" height="9.8" fill="#000"/>
<rect x="1689.9" y="997.8" width="9.0" height="16.2" fill="#000"/>
<rect x="1891.2" y="997.8" width="9.0" height="16.2" fill="#000"/>
<rect x="2092.5" y="997.8" width="9.0" height="16.2" fill="#000"/>
<rect x="2293.8" y="997.8" width="9.0" height="16.2" fill="#000"/>
<rect x="2495.1" y="997.8" width="9.0" height="16.2" fill="#000"/>
<rect x="2696.4" y="997.8" width="9.0" height="16.2" fill="#000"/>
<rect x="1668.3" y="146.4" width="9.5" height="867.6" fill="#000"/><rect x="2746.7" y="146.4" width="9.5" height="872.4" fill="#000"/><rect x="1673.1" y="141.7" width="1078.3" height="9.5" fill="#000"/><rect x="1673.1" y="1009.2" width="1078.3" height="9.5" fill="#000"/>
<polyline points="1693.2,979.1 1694.6,951.6 1695.5,891.5 1700.4,736.8 1701.3,700.5 1702.5,648.6 1704.2,618.7 1712.6,536.0 1726.0,479.5 1736.0,457.0 1763.9,420.7 1825.0,385.7 1861.8,369.3 1904.1,359.1 1955.5,346.8 2010.5,340.8 2046.0,333.3 2098.0,328.6 2149.3,322.6 2200.5,317.4 2250.7,312.6 2301.7,305.8 2352.1,302.0 2402.1,297.2 2453.0,292.8 2503.4,286.4 2554.8,282.0 2604.8,278.7 2630.0,274.9 2656.0,274.7 2701.2,270.7" fill="none" stroke="#a50b5e" stroke-width="11.7" stroke-linejoin="round" stroke-linecap="butt"/>
<ellipse cx="1693.2" cy="979.1" rx="12.79" ry="14.7" fill="#a50b5e"/><ellipse cx="1689.2" cy="975.3" rx="6.09" ry="7.0" fill="url(#g_mag)"/>
<ellipse cx="1694.6" cy="951.6" rx="12.79" ry="14.7" fill="#a50b5e"/><ellipse cx="1690.6" cy="947.8" rx="6.09" ry="7.0" fill="url(#g_mag)"/>
<ellipse cx="1695.5" cy="891.5" rx="12.79" ry="14.7" fill="#a50b5e"/><ellipse cx="1691.5" cy="887.7" rx="6.09" ry="7.0" fill="url(#g_mag)"/>
<ellipse cx="1700.4" cy="736.8" rx="12.79" ry="14.7" fill="#a50b5e"/><ellipse cx="1696.4" cy="733.0" rx="6.09" ry="7.0" fill="url(#g_mag)"/>
<ellipse cx="1701.3" cy="700.5" rx="12.79" ry="14.7" fill="#a50b5e"/><ellipse cx="1697.3" cy="696.7" rx="6.09" ry="7.0" fill="url(#g_mag)"/>
<ellipse cx="1702.5" cy="648.6" rx="12.79" ry="14.7" fill="#a50b5e"/><ellipse cx="1698.5" cy="644.8" rx="6.09" ry="7.0" fill="url(#g_mag)"/>
<ellipse cx="1704.2" cy="618.7" rx="12.79" ry="14.7" fill="#a50b5e"/><ellipse cx="1700.2" cy="614.9" rx="6.09" ry="7.0" fill="url(#g_mag)"/>
<ellipse cx="1712.6" cy="536.0" rx="12.79" ry="14.7" fill="#a50b5e"/><ellipse cx="1708.6" cy="532.2" rx="6.09" ry="7.0" fill="url(#g_mag)"/>
<ellipse cx="1726.0" cy="479.5" rx="12.79" ry="14.7" fill="#a50b5e"/><ellipse cx="1722.0" cy="475.7" rx="6.09" ry="7.0" fill="url(#g_mag)"/>
<ellipse cx="1736.0" cy="457.0" rx="12.79" ry="14.7" fill="#a50b5e"/><ellipse cx="1732.0" cy="453.2" rx="6.09" ry="7.0" fill="url(#g_mag)"/>
<ellipse cx="1763.9" cy="420.7" rx="12.79" ry="14.7" fill="#a50b5e"/><ellipse cx="1759.9" cy="416.9" rx="6.09" ry="7.0" fill="url(#g_mag)"/>
<ellipse cx="1825.0" cy="385.7" rx="12.79" ry="14.7" fill="#a50b5e"/><ellipse cx="1821.0" cy="381.9" rx="6.09" ry="7.0" fill="url(#g_mag)"/>
<ellipse cx="1861.8" cy="369.3" rx="12.79" ry="14.7" fill="#a50b5e"/><ellipse cx="1857.8" cy="365.5" rx="6.09" ry="7.0" fill="url(#g_mag)"/>
<ellipse cx="1904.1" cy="359.1" rx="12.79" ry="14.7" fill="#a50b5e"/><ellipse cx="1900.1" cy="355.3" rx="6.09" ry="7.0" fill="url(#g_mag)"/>
<ellipse cx="1955.5" cy="346.8" rx="12.79" ry="14.7" fill="#a50b5e"/><ellipse cx="1951.5" cy="343.0" rx="6.09" ry="7.0" fill="url(#g_mag)"/>
<ellipse cx="2010.5" cy="340.8" rx="12.79" ry="14.7" fill="#a50b5e"/><ellipse cx="2006.5" cy="337.0" rx="6.09" ry="7.0" fill="url(#g_mag)"/>
<ellipse cx="2046.0" cy="333.3" rx="12.79" ry="14.7" fill="#a50b5e"/><ellipse cx="2042.0" cy="329.5" rx="6.09" ry="7.0" fill="url(#g_mag)"/>
<ellipse cx="2098.0" cy="328.6" rx="12.79" ry="14.7" fill="#a50b5e"/><ellipse cx="2094.0" cy="324.8" rx="6.09" ry="7.0" fill="url(#g_mag)"/>
<ellipse cx="2149.3" cy="322.6" rx="12.79" ry="14.7" fill="#a50b5e"/><ellipse cx="2145.3" cy="318.8" rx="6.09" ry="7.0" fill="url(#g_mag)"/>
<ellipse cx="2200.5" cy="317.4" rx="12.79" ry="14.7" fill="#a50b5e"/><ellipse cx="2196.5" cy="313.6" rx="6.09" ry="7.0" fill="url(#g_mag)"/>
<ellipse cx="2250.7" cy="312.6" rx="12.79" ry="14.7" fill="#a50b5e"/><ellipse cx="2246.7" cy="308.8" rx="6.09" ry="7.0" fill="url(#g_mag)"/>
<ellipse cx="2301.7" cy="305.8" rx="12.79" ry="14.7" fill="#a50b5e"/><ellipse cx="2297.7" cy="302.0" rx="6.09" ry="7.0" fill="url(#g_mag)"/>
<ellipse cx="2352.1" cy="302.0" rx="12.79" ry="14.7" fill="#a50b5e"/><ellipse cx="2348.1" cy="298.2" rx="6.09" ry="7.0" fill="url(#g_mag)"/>
<ellipse cx="2402.1" cy="297.2" rx="12.79" ry="14.7" fill="#a50b5e"/><ellipse cx="2398.1" cy="293.4" rx="6.09" ry="7.0" fill="url(#g_mag)"/>
<ellipse cx="2453.0" cy="292.8" rx="12.79" ry="14.7" fill="#a50b5e"/><ellipse cx="2449.0" cy="289.0" rx="6.09" ry="7.0" fill="url(#g_mag)"/>
<ellipse cx="2503.4" cy="286.4" rx="12.79" ry="14.7" fill="#a50b5e"/><ellipse cx="2499.4" cy="282.6" rx="6.09" ry="7.0" fill="url(#g_mag)"/>
<ellipse cx="2554.8" cy="282.0" rx="12.79" ry="14.7" fill="#a50b5e"/><ellipse cx="2550.8" cy="278.2" rx="6.09" ry="7.0" fill="url(#g_mag)"/>
<ellipse cx="2604.8" cy="278.7" rx="12.79" ry="14.7" fill="#a50b5e"/><ellipse cx="2600.8" cy="274.9" rx="6.09" ry="7.0" fill="url(#g_mag)"/>
<ellipse cx="2630.0" cy="274.9" rx="12.79" ry="14.7" fill="#a50b5e"/><ellipse cx="2626.0" cy="271.1" rx="6.09" ry="7.0" fill="url(#g_mag)"/>
<ellipse cx="2656.0" cy="274.7" rx="12.79" ry="14.7" fill="#a50b5e"/><ellipse cx="2652.0" cy="270.9" rx="6.09" ry="7.0" fill="url(#g_mag)"/>
<ellipse cx="2701.2" cy="270.7" rx="12.79" ry="14.7" fill="#a50b5e"/><ellipse cx="2697.2" cy="266.9" rx="6.09" ry="7.0" fill="url(#g_mag)"/>
<polyline points="1699.5,1003.6 1733.0,1003.5 1767.2,1003.4 1831.0,1003.3 1862.2,1003.2 1905.0,1003.1 1957.5,1002.9 2010.6,1002.8 2045.7,1001.4 2097.2,1001.1 2148.8,1000.9 2199.3,1000.7 2249.9,1000.6 2300.4,1000.4 2351.0,1000.2 2401.9,1000.0 2453.1,998.8 2504.3,997.7 2554.6,996.6 2605.8,995.4 2630.4,994.9 2656.0,994.3 2702.6,993.0" fill="none" stroke="#7800c8" stroke-width="11.7" stroke-linejoin="round" stroke-linecap="butt"/>
<ellipse cx="1699.5" cy="1003.6" rx="12.79" ry="14.7" fill="#7800c8"/><ellipse cx="1695.5" cy="999.8" rx="6.09" ry="7.0" fill="url(#g_purple)"/>
<ellipse cx="1733.0" cy="1003.5" rx="12.79" ry="14.7" fill="#7800c8"/><ellipse cx="1729.0" cy="999.7" rx="6.09" ry="7.0" fill="url(#g_purple)"/>
<ellipse cx="1767.2" cy="1003.4" rx="12.79" ry="14.7" fill="#7800c8"/><ellipse cx="1763.2" cy="999.6" rx="6.09" ry="7.0" fill="url(#g_purple)"/>
<ellipse cx="1831.0" cy="1003.3" rx="12.79" ry="14.7" fill="#7800c8"/><ellipse cx="1827.0" cy="999.5" rx="6.09" ry="7.0" fill="url(#g_purple)"/>
<ellipse cx="1862.2" cy="1003.2" rx="12.79" ry="14.7" fill="#7800c8"/><ellipse cx="1858.2" cy="999.4" rx="6.09" ry="7.0" fill="url(#g_purple)"/>
<ellipse cx="1905.0" cy="1003.1" rx="12.79" ry="14.7" fill="#7800c8"/><ellipse cx="1901.0" cy="999.3" rx="6.09" ry="7.0" fill="url(#g_purple)"/>
<ellipse cx="1957.5" cy="1002.9" rx="12.79" ry="14.7" fill="#7800c8"/><ellipse cx="1953.5" cy="999.1" rx="6.09" ry="7.0" fill="url(#g_purple)"/>
<ellipse cx="2010.6" cy="1002.8" rx="12.79" ry="14.7" fill="#7800c8"/><ellipse cx="2006.6" cy="999.0" rx="6.09" ry="7.0" fill="url(#g_purple)"/>
<ellipse cx="2045.7" cy="1001.4" rx="12.79" ry="14.7" fill="#7800c8"/><ellipse cx="2041.7" cy="997.6" rx="6.09" ry="7.0" fill="url(#g_purple)"/>
<ellipse cx="2097.2" cy="1001.1" rx="12.79" ry="14.7" fill="#7800c8"/><ellipse cx="2093.2" cy="997.3" rx="6.09" ry="7.0" fill="url(#g_purple)"/>
<ellipse cx="2148.8" cy="1000.9" rx="12.79" ry="14.7" fill="#7800c8"/><ellipse cx="2144.8" cy="997.1" rx="6.09" ry="7.0" fill="url(#g_purple)"/>
<ellipse cx="2199.3" cy="1000.7" rx="12.79" ry="14.7" fill="#7800c8"/><ellipse cx="2195.3" cy="996.9" rx="6.09" ry="7.0" fill="url(#g_purple)"/>
<ellipse cx="2249.9" cy="1000.6" rx="12.79" ry="14.7" fill="#7800c8"/><ellipse cx="2245.9" cy="996.8" rx="6.09" ry="7.0" fill="url(#g_purple)"/>
<ellipse cx="2300.4" cy="1000.4" rx="12.79" ry="14.7" fill="#7800c8"/><ellipse cx="2296.4" cy="996.6" rx="6.09" ry="7.0" fill="url(#g_purple)"/>
<ellipse cx="2351.0" cy="1000.2" rx="12.79" ry="14.7" fill="#7800c8"/><ellipse cx="2347.0" cy="996.4" rx="6.09" ry="7.0" fill="url(#g_purple)"/>
<ellipse cx="2401.9" cy="1000.0" rx="12.79" ry="14.7" fill="#7800c8"/><ellipse cx="2397.9" cy="996.2" rx="6.09" ry="7.0" fill="url(#g_purple)"/>
<ellipse cx="2453.1" cy="998.8" rx="12.79" ry="14.7" fill="#7800c8"/><ellipse cx="2449.1" cy="995.0" rx="6.09" ry="7.0" fill="url(#g_purple)"/>
<ellipse cx="2504.3" cy="997.7" rx="12.79" ry="14.7" fill="#7800c8"/><ellipse cx="2500.3" cy="993.9" rx="6.09" ry="7.0" fill="url(#g_purple)"/>
<ellipse cx="2554.6" cy="996.6" rx="12.79" ry="14.7" fill="#7800c8"/><ellipse cx="2550.6" cy="992.8" rx="6.09" ry="7.0" fill="url(#g_purple)"/>
<ellipse cx="2605.8" cy="995.4" rx="12.79" ry="14.7" fill="#7800c8"/><ellipse cx="2601.8" cy="991.6" rx="6.09" ry="7.0" fill="url(#g_purple)"/>
<ellipse cx="2630.4" cy="994.9" rx="12.79" ry="14.7" fill="#7800c8"/><ellipse cx="2626.4" cy="991.1" rx="6.09" ry="7.0" fill="url(#g_purple)"/>
<ellipse cx="2656.0" cy="994.3" rx="12.79" ry="14.7" fill="#7800c8"/><ellipse cx="2652.0" cy="990.5" rx="6.09" ry="7.0" fill="url(#g_purple)"/>
<ellipse cx="2702.6" cy="993.0" rx="12.79" ry="14.7" fill="#7800c8"/><ellipse cx="2698.6" cy="989.2" rx="6.09" ry="7.0" fill="url(#g_purple)"/>
<polyline points="1699.5,1003.0 1720.7,999.3 1733.0,1002.7 1767.2,1002.5 1831.0,1002.0 1862.2,1001.7 1882.0,999.3 1905.0,1001.4 1957.5,1000.9 2010.6,1000.4 2045.7,1000.1 2097.2,999.6 2148.8,999.5 2199.3,999.5 2249.9,999.4 2300.4,999.3 2351.0,999.3 2401.9,999.2 2453.1,998.7 2504.3,998.3 2554.6,997.3 2605.8,996.3 2630.4,995.4 2656.0,994.4 2702.6,992.7" fill="none" stroke="#ff8210" stroke-width="11.7" stroke-linejoin="round" stroke-linecap="butt"/>
<ellipse cx="1699.5" cy="1003.0" rx="12.79" ry="14.7" fill="#ff8210"/><ellipse cx="1695.5" cy="999.2" rx="6.09" ry="7.0" fill="url(#g_orange)"/>
<ellipse cx="1720.7" cy="999.3" rx="12.79" ry="14.7" fill="#ff8210"/><ellipse cx="1716.7" cy="995.5" rx="6.09" ry="7.0" fill="url(#g_orange)"/>
<ellipse cx="1733.0" cy="1002.7" rx="12.79" ry="14.7" fill="#ff8210"/><ellipse cx="1729.0" cy="998.9" rx="6.09" ry="7.0" fill="url(#g_orange)"/>
<ellipse cx="1767.2" cy="1002.5" rx="12.79" ry="14.7" fill="#ff8210"/><ellipse cx="1763.2" cy="998.7" rx="6.09" ry="7.0" fill="url(#g_orange)"/>
<ellipse cx="1831.0" cy="1002.0" rx="12.79" ry="14.7" fill="#ff8210"/><ellipse cx="1827.0" cy="998.2" rx="6.09" ry="7.0" fill="url(#g_orange)"/>
<ellipse cx="1862.2" cy="1001.7" rx="12.79" ry="14.7" fill="#ff8210"/><ellipse cx="1858.2" cy="997.9" rx="6.09" ry="7.0" fill="url(#g_orange)"/>
<ellipse cx="1882.0" cy="999.3" rx="12.79" ry="14.7" fill="#ff8210"/><ellipse cx="1878.0" cy="995.5" rx="6.09" ry="7.0" fill="url(#g_orange)"/>
<ellipse cx="1905.0" cy="1001.4" rx="12.79" ry="14.7" fill="#ff8210"/><ellipse cx="1901.0" cy="997.6" rx="6.09" ry="7.0" fill="url(#g_orange)"/>
<ellipse cx="1957.5" cy="1000.9" rx="12.79" ry="14.7" fill="#ff8210"/><ellipse cx="1953.5" cy="997.1" rx="6.09" ry="7.0" fill="url(#g_orange)"/>
<ellipse cx="2010.6" cy="1000.4" rx="12.79" ry="14.7" fill="#ff8210"/><ellipse cx="2006.6" cy="996.6" rx="6.09" ry="7.0" fill="url(#g_orange)"/>
<ellipse cx="2045.7" cy="1000.1" rx="12.79" ry="14.7" fill="#ff8210"/><ellipse cx="2041.7" cy="996.3" rx="6.09" ry="7.0" fill="url(#g_orange)"/>
<ellipse cx="2097.2" cy="999.6" rx="12.79" ry="14.7" fill="#ff8210"/><ellipse cx="2093.2" cy="995.8" rx="6.09" ry="7.0" fill="url(#g_orange)"/>
<ellipse cx="2148.8" cy="999.5" rx="12.79" ry="14.7" fill="#ff8210"/><ellipse cx="2144.8" cy="995.7" rx="6.09" ry="7.0" fill="url(#g_orange)"/>
<ellipse cx="2199.3" cy="999.5" rx="12.79" ry="14.7" fill="#ff8210"/><ellipse cx="2195.3" cy="995.7" rx="6.09" ry="7.0" fill="url(#g_orange)"/>
<ellipse cx="2249.9" cy="999.4" rx="12.79" ry="14.7" fill="#ff8210"/><ellipse cx="2245.9" cy="995.6" rx="6.09" ry="7.0" fill="url(#g_orange)"/>
<ellipse cx="2300.4" cy="999.3" rx="12.79" ry="14.7" fill="#ff8210"/><ellipse cx="2296.4" cy="995.5" rx="6.09" ry="7.0" fill="url(#g_orange)"/>
<ellipse cx="2351.0" cy="999.3" rx="12.79" ry="14.7" fill="#ff8210"/><ellipse cx="2347.0" cy="995.5" rx="6.09" ry="7.0" fill="url(#g_orange)"/>
<ellipse cx="2401.9" cy="999.2" rx="12.79" ry="14.7" fill="#ff8210"/><ellipse cx="2397.9" cy="995.4" rx="6.09" ry="7.0" fill="url(#g_orange)"/>
<ellipse cx="2453.1" cy="998.7" rx="12.79" ry="14.7" fill="#ff8210"/><ellipse cx="2449.1" cy="994.9" rx="6.09" ry="7.0" fill="url(#g_orange)"/>
<ellipse cx="2504.3" cy="998.3" rx="12.79" ry="14.7" fill="#ff8210"/><ellipse cx="2500.3" cy="994.5" rx="6.09" ry="7.0" fill="url(#g_orange)"/>
<ellipse cx="2554.6" cy="997.3" rx="12.79" ry="14.7" fill="#ff8210"/><ellipse cx="2550.6" cy="993.5" rx="6.09" ry="7.0" fill="url(#g_orange)"/>
<ellipse cx="2605.8" cy="996.3" rx="12.79" ry="14.7" fill="#ff8210"/><ellipse cx="2601.8" cy="992.5" rx="6.09" ry="7.0" fill="url(#g_orange)"/>
<ellipse cx="2630.4" cy="995.4" rx="12.79" ry="14.7" fill="#ff8210"/><ellipse cx="2626.4" cy="991.6" rx="6.09" ry="7.0" fill="url(#g_orange)"/>
<ellipse cx="2656.0" cy="994.4" rx="12.79" ry="14.7" fill="#ff8210"/><ellipse cx="2652.0" cy="990.6" rx="6.09" ry="7.0" fill="url(#g_orange)"/>
<ellipse cx="2702.6" cy="992.7" rx="12.79" ry="14.7" fill="#ff8210"/><ellipse cx="2698.6" cy="988.9" rx="6.09" ry="7.0" fill="url(#g_orange)"/>
<polyline points="1699.5,1003.3 1733.0,1003.0 1767.2,1002.7 1831.0,1002.2 1862.2,1002.0 1905.0,1001.6 1957.5,1001.1 2010.6,1000.5 2045.7,1000.2 2097.2,999.6 2148.8,999.5 2199.3,999.3 2249.9,999.2 2300.4,999.0 2351.0,998.8 2401.9,998.7 2453.1,997.5 2504.3,996.3 2554.6,995.2 2605.8,994.0 2630.4,992.7 2656.0,991.4 2702.6,989.0" fill="none" stroke="#868600" stroke-width="11.7" stroke-linejoin="round" stroke-linecap="butt"/>
<ellipse cx="1699.5" cy="1003.3" rx="12.79" ry="14.7" fill="#868600"/><ellipse cx="1695.5" cy="999.5" rx="6.09" ry="7.0" fill="url(#g_olive)"/>
<ellipse cx="1733.0" cy="1003.0" rx="12.79" ry="14.7" fill="#868600"/><ellipse cx="1729.0" cy="999.2" rx="6.09" ry="7.0" fill="url(#g_olive)"/>
<ellipse cx="1767.2" cy="1002.7" rx="12.79" ry="14.7" fill="#868600"/><ellipse cx="1763.2" cy="998.9" rx="6.09" ry="7.0" fill="url(#g_olive)"/>
<ellipse cx="1831.0" cy="1002.2" rx="12.79" ry="14.7" fill="#868600"/><ellipse cx="1827.0" cy="998.4" rx="6.09" ry="7.0" fill="url(#g_olive)"/>
<ellipse cx="1862.2" cy="1002.0" rx="12.79" ry="14.7" fill="#868600"/><ellipse cx="1858.2" cy="998.2" rx="6.09" ry="7.0" fill="url(#g_olive)"/>
<ellipse cx="1905.0" cy="1001.6" rx="12.79" ry="14.7" fill="#868600"/><ellipse cx="1901.0" cy="997.8" rx="6.09" ry="7.0" fill="url(#g_olive)"/>
<ellipse cx="1957.5" cy="1001.1" rx="12.79" ry="14.7" fill="#868600"/><ellipse cx="1953.5" cy="997.3" rx="6.09" ry="7.0" fill="url(#g_olive)"/>
<ellipse cx="2010.6" cy="1000.5" rx="12.79" ry="14.7" fill="#868600"/><ellipse cx="2006.6" cy="996.7" rx="6.09" ry="7.0" fill="url(#g_olive)"/>
<ellipse cx="2045.7" cy="1000.2" rx="12.79" ry="14.7" fill="#868600"/><ellipse cx="2041.7" cy="996.4" rx="6.09" ry="7.0" fill="url(#g_olive)"/>
<ellipse cx="2097.2" cy="999.6" rx="12.79" ry="14.7" fill="#868600"/><ellipse cx="2093.2" cy="995.8" rx="6.09" ry="7.0" fill="url(#g_olive)"/>
<ellipse cx="2148.8" cy="999.5" rx="12.79" ry="14.7" fill="#868600"/><ellipse cx="2144.8" cy="995.7" rx="6.09" ry="7.0" fill="url(#g_olive)"/>
<ellipse cx="2199.3" cy="999.3" rx="12.79" ry="14.7" fill="#868600"/><ellipse cx="2195.3" cy="995.5" rx="6.09" ry="7.0" fill="url(#g_olive)"/>
<ellipse cx="2249.9" cy="999.2" rx="12.79" ry="14.7" fill="#868600"/><ellipse cx="2245.9" cy="995.4" rx="6.09" ry="7.0" fill="url(#g_olive)"/>
<ellipse cx="2300.4" cy="999.0" rx="12.79" ry="14.7" fill="#868600"/><ellipse cx="2296.4" cy="995.2" rx="6.09" ry="7.0" fill="url(#g_olive)"/>
<ellipse cx="2351.0" cy="998.8" rx="12.79" ry="14.7" fill="#868600"/><ellipse cx="2347.0" cy="995.0" rx="6.09" ry="7.0" fill="url(#g_olive)"/>
<ellipse cx="2401.9" cy="998.7" rx="12.79" ry="14.7" fill="#868600"/><ellipse cx="2397.9" cy="994.9" rx="6.09" ry="7.0" fill="url(#g_olive)"/>
<ellipse cx="2453.1" cy="997.5" rx="12.79" ry="14.7" fill="#868600"/><ellipse cx="2449.1" cy="993.7" rx="6.09" ry="7.0" fill="url(#g_olive)"/>
<ellipse cx="2504.3" cy="996.3" rx="12.79" ry="14.7" fill="#868600"/><ellipse cx="2500.3" cy="992.5" rx="6.09" ry="7.0" fill="url(#g_olive)"/>
<ellipse cx="2554.6" cy="995.2" rx="12.79" ry="14.7" fill="#868600"/><ellipse cx="2550.6" cy="991.4" rx="6.09" ry="7.0" fill="url(#g_olive)"/>
<ellipse cx="2605.8" cy="994.0" rx="12.79" ry="14.7" fill="#868600"/><ellipse cx="2601.8" cy="990.2" rx="6.09" ry="7.0" fill="url(#g_olive)"/>
<ellipse cx="2630.4" cy="992.7" rx="12.79" ry="14.7" fill="#868600"/><ellipse cx="2626.4" cy="988.9" rx="6.09" ry="7.0" fill="url(#g_olive)"/>
<ellipse cx="2656.0" cy="991.4" rx="12.79" ry="14.7" fill="#868600"/><ellipse cx="2652.0" cy="987.6" rx="6.09" ry="7.0" fill="url(#g_olive)"/>
<ellipse cx="2702.6" cy="989.0" rx="12.79" ry="14.7" fill="#868600"/><ellipse cx="2698.6" cy="985.2" rx="6.09" ry="7.0" fill="url(#g_olive)"/>
<polyline points="1699.5,994.6 1733.0,994.5 1767.2,994.4 1831.0,994.1 1862.2,994.0 1905.0,993.8 1957.5,993.2 2010.6,992.6 2045.7,991.4 2097.2,990.5 2148.8,989.8 2199.3,989.1 2249.9,988.5 2300.4,987.9 2351.0,987.2 2401.9,986.5 2453.1,985.2 2504.3,983.8 2554.6,982.5 2605.8,981.1 2630.4,980.6 2656.0,980.2 2702.6,979.3" fill="none" stroke="#148c8c" stroke-width="11.7" stroke-linejoin="round" stroke-linecap="butt"/>
<ellipse cx="1699.5" cy="994.6" rx="12.79" ry="14.7" fill="#148c8c"/><ellipse cx="1695.5" cy="990.8" rx="6.09" ry="7.0" fill="url(#g_teal)"/>
<ellipse cx="1733.0" cy="994.5" rx="12.79" ry="14.7" fill="#148c8c"/><ellipse cx="1729.0" cy="990.7" rx="6.09" ry="7.0" fill="url(#g_teal)"/>
<ellipse cx="1767.2" cy="994.4" rx="12.79" ry="14.7" fill="#148c8c"/><ellipse cx="1763.2" cy="990.6" rx="6.09" ry="7.0" fill="url(#g_teal)"/>
<ellipse cx="1831.0" cy="994.1" rx="12.79" ry="14.7" fill="#148c8c"/><ellipse cx="1827.0" cy="990.3" rx="6.09" ry="7.0" fill="url(#g_teal)"/>
<ellipse cx="1862.2" cy="994.0" rx="12.79" ry="14.7" fill="#148c8c"/><ellipse cx="1858.2" cy="990.2" rx="6.09" ry="7.0" fill="url(#g_teal)"/>
<ellipse cx="1905.0" cy="993.8" rx="12.79" ry="14.7" fill="#148c8c"/><ellipse cx="1901.0" cy="990.0" rx="6.09" ry="7.0" fill="url(#g_teal)"/>
<ellipse cx="1957.5" cy="993.2" rx="12.79" ry="14.7" fill="#148c8c"/><ellipse cx="1953.5" cy="989.4" rx="6.09" ry="7.0" fill="url(#g_teal)"/>
<ellipse cx="2010.6" cy="992.6" rx="12.79" ry="14.7" fill="#148c8c"/><ellipse cx="2006.6" cy="988.8" rx="6.09" ry="7.0" fill="url(#g_teal)"/>
<ellipse cx="2045.7" cy="991.4" rx="12.79" ry="14.7" fill="#148c8c"/><ellipse cx="2041.7" cy="987.6" rx="6.09" ry="7.0" fill="url(#g_teal)"/>
<ellipse cx="2097.2" cy="990.5" rx="12.79" ry="14.7" fill="#148c8c"/><ellipse cx="2093.2" cy="986.7" rx="6.09" ry="7.0" fill="url(#g_teal)"/>
<ellipse cx="2148.8" cy="989.8" rx="12.79" ry="14.7" fill="#148c8c"/><ellipse cx="2144.8" cy="986.0" rx="6.09" ry="7.0" fill="url(#g_teal)"/>
<ellipse cx="2199.3" cy="989.1" rx="12.79" ry="14.7" fill="#148c8c"/><ellipse cx="2195.3" cy="985.3" rx="6.09" ry="7.0" fill="url(#g_teal)"/>
<ellipse cx="2249.9" cy="988.5" rx="12.79" ry="14.7" fill="#148c8c"/><ellipse cx="2245.9" cy="984.7" rx="6.09" ry="7.0" fill="url(#g_teal)"/>
<ellipse cx="2300.4" cy="987.9" rx="12.79" ry="14.7" fill="#148c8c"/><ellipse cx="2296.4" cy="984.1" rx="6.09" ry="7.0" fill="url(#g_teal)"/>
<ellipse cx="2351.0" cy="987.2" rx="12.79" ry="14.7" fill="#148c8c"/><ellipse cx="2347.0" cy="983.4" rx="6.09" ry="7.0" fill="url(#g_teal)"/>
<ellipse cx="2401.9" cy="986.5" rx="12.79" ry="14.7" fill="#148c8c"/><ellipse cx="2397.9" cy="982.7" rx="6.09" ry="7.0" fill="url(#g_teal)"/>
<ellipse cx="2453.1" cy="985.2" rx="12.79" ry="14.7" fill="#148c8c"/><ellipse cx="2449.1" cy="981.4" rx="6.09" ry="7.0" fill="url(#g_teal)"/>
<ellipse cx="2504.3" cy="983.8" rx="12.79" ry="14.7" fill="#148c8c"/><ellipse cx="2500.3" cy="980.0" rx="6.09" ry="7.0" fill="url(#g_teal)"/>
<ellipse cx="2554.6" cy="982.5" rx="12.79" ry="14.7" fill="#148c8c"/><ellipse cx="2550.6" cy="978.7" rx="6.09" ry="7.0" fill="url(#g_teal)"/>
<ellipse cx="2605.8" cy="981.1" rx="12.79" ry="14.7" fill="#148c8c"/><ellipse cx="2601.8" cy="977.3" rx="6.09" ry="7.0" fill="url(#g_teal)"/>
<ellipse cx="2630.4" cy="980.6" rx="12.79" ry="14.7" fill="#148c8c"/><ellipse cx="2626.4" cy="976.8" rx="6.09" ry="7.0" fill="url(#g_teal)"/>
<ellipse cx="2656.0" cy="980.2" rx="12.79" ry="14.7" fill="#148c8c"/><ellipse cx="2652.0" cy="976.4" rx="6.09" ry="7.0" fill="url(#g_teal)"/>
<ellipse cx="2702.6" cy="979.3" rx="12.79" ry="14.7" fill="#148c8c"/><ellipse cx="2698.6" cy="975.5" rx="6.09" ry="7.0" fill="url(#g_teal)"/>
<g transform="translate(1633.41,1018.90) scale(0.9150,1.0)" font-family="'Liberation Serif', serif" font-weight="bold" fill="#000" stroke="#000" stroke-width="1.0" stroke-linejoin="round" style="font-kerning:none;font-variant-ligatures:none;"><text x="0.00" y="0.00" font-size="70.00">0</text></g>
<g transform="translate(1601.39,872.00) scale(0.9150,1.0)" font-family="'Liberation Serif', serif" font-weight="bold" fill="#000" stroke="#000" stroke-width="1.0" stroke-linejoin="round" style="font-kerning:none;font-variant-ligatures:none;"><text x="0.00" y="0.00" font-size="70.00">10</text></g>
<g transform="translate(1601.39,725.10) scale(0.9150,1.0)" font-family="'Liberation Serif', serif" font-weight="bold" fill="#000" stroke="#000" stroke-width="1.0" stroke-linejoin="round" style="font-kerning:none;font-variant-ligatures:none;"><text x="0.00" y="0.00" font-size="70.00">20</text></g>
<g transform="translate(1601.39,578.20) scale(0.9150,1.0)" font-family="'Liberation Serif', serif" font-weight="bold" fill="#000" stroke="#000" stroke-width="1.0" stroke-linejoin="round" style="font-kerning:none;font-variant-ligatures:none;"><text x="0.00" y="0.00" font-size="70.00">30</text></g>
<g transform="translate(1601.39,431.30) scale(0.9150,1.0)" font-family="'Liberation Serif', serif" font-weight="bold" fill="#000" stroke="#000" stroke-width="1.0" stroke-linejoin="round" style="font-kerning:none;font-variant-ligatures:none;"><text x="0.00" y="0.00" font-size="70.00">40</text></g>
<g transform="translate(1601.39,284.40) scale(0.9150,1.0)" font-family="'Liberation Serif', serif" font-weight="bold" fill="#000" stroke="#000" stroke-width="1.0" stroke-linejoin="round" style="font-kerning:none;font-variant-ligatures:none;"><text x="0.00" y="0.00" font-size="70.00">50</text></g>
<g transform="translate(1653.77,1078.00) scale(0.9150,1.0)" font-family="'Liberation Serif', serif" font-weight="bold" fill="#000" stroke="#000" stroke-width="1.0" stroke-linejoin="round" style="font-kerning:none;font-variant-ligatures:none;"><text x="0.00" y="0.00" font-size="70.00">0.0</text></g>
<g transform="translate(1855.23,1078.00) scale(0.9150,1.0)" font-family="'Liberation Serif', serif" font-weight="bold" fill="#000" stroke="#000" stroke-width="1.0" stroke-linejoin="round" style="font-kerning:none;font-variant-ligatures:none;"><text x="0.00" y="0.00" font-size="70.00">0.2</text></g>
<g transform="translate(2055.74,1078.00) scale(0.9150,1.0)" font-family="'Liberation Serif', serif" font-weight="bold" fill="#000" stroke="#000" stroke-width="1.0" stroke-linejoin="round" style="font-kerning:none;font-variant-ligatures:none;"><text x="0.00" y="0.00" font-size="70.00">0.4</text></g>
<g transform="translate(2257.39,1078.00) scale(0.9150,1.0)" font-family="'Liberation Serif', serif" font-weight="bold" fill="#000" stroke="#000" stroke-width="1.0" stroke-linejoin="round" style="font-kerning:none;font-variant-ligatures:none;"><text x="0.00" y="0.00" font-size="70.00">0.6</text></g>
<g transform="translate(2458.81,1078.00) scale(0.9150,1.0)" font-family="'Liberation Serif', serif" font-weight="bold" fill="#000" stroke="#000" stroke-width="1.0" stroke-linejoin="round" style="font-kerning:none;font-variant-ligatures:none;"><text x="0.00" y="0.00" font-size="70.00">0.8</text></g>
<g transform="translate(2658.92,1078.00) scale(0.9150,1.0)" font-family="'Liberation Serif', serif" font-weight="bold" fill="#000" stroke="#000" stroke-width="1.0" stroke-linejoin="round" style="font-kerning:none;font-variant-ligatures:none;"><text x="0.00" y="0.00" font-size="70.00">1.0</text></g>
<g transform="translate(2042.00,1153.20) scale(0.9226,1.0)" font-family="'Liberation Serif', serif" font-weight="bold" fill="#000" stroke="#000" stroke-width="1.0" stroke-linejoin="round" style="font-kerning:none;font-variant-ligatures:none;"><text x="0.00" y="0.00" font-size="76.00">Pressure&#160;(bar)</text></g>
<g transform="translate(1570.00,958.36) rotate(-90) scale(1.0139,1.0)" font-family="'Liberation Serif', serif" font-weight="bold" fill="#000" stroke="#000" stroke-width="1.0" stroke-linejoin="round" style="font-kerning:none;font-variant-ligatures:none;"><text x="0.00" y="0.00" font-size="76.00">Gas&#160;uptake</text></g>
<g transform="translate(1570.00,563.28) rotate(-90) scale(1.0108,1.0)" font-family="'Liberation Serif', serif" font-weight="bold" fill="#000" stroke="#000" stroke-width="1.0" stroke-linejoin="round" style="font-kerning:none;font-variant-ligatures:none;"><text x="0.00" y="0.00" font-size="76.00">(cm</text><text x="122.35" y="-35.72" font-size="50.16">3</text><text x="147.43" y="0.00" font-size="76.00">/g&#160;STP)</text></g>
<g transform="translate(1729.04,245.70) scale(0.9453,1.0)" font-family="'Liberation Serif', serif" font-weight="bold" fill="#000" stroke="#000" stroke-width="1.0" stroke-linejoin="round" style="font-kerning:none;font-variant-ligatures:none;"><text x="0.00" y="0.00" font-size="69.50">298&#160;K</text></g>
<polyline points="2329.9,476.0 2417.8,476.0" fill="none" stroke="#a50b5e" stroke-width="11.7" stroke-linejoin="round" stroke-linecap="butt"/>
<ellipse cx="2373.6" cy="475.4" rx="12.79" ry="14.7" fill="#a50b5e"/><ellipse cx="2369.6" cy="471.6" rx="6.09" ry="7.0" fill="url(#g_mag)"/>
<g transform="translate(2428.27,490.50) scale(0.9151,1.0)" font-family="'Liberation Serif', serif" font-weight="bold" fill="#000" stroke="#000" stroke-width="1.0" stroke-linejoin="round" style="font-kerning:none;font-variant-ligatures:none;"><text x="0.00" y="0.00" font-size="70.00">C</text><text x="50.55" y="19.60" font-size="46.20">4</text><text x="73.65" y="0.00" font-size="70.00">H</text><text x="128.10" y="19.60" font-size="46.20">6</text></g>
<polyline points="2329.9,578.0 2417.8,578.0" fill="none" stroke="#148c8c" stroke-width="11.7" stroke-linejoin="round" stroke-linecap="butt"/>
<ellipse cx="2373.6" cy="577.4" rx="12.79" ry="14.7" fill="#148c8c"/><ellipse cx="2369.6" cy="573.6" rx="6.09" ry="7.0" fill="url(#g_teal)"/>
<g transform="translate(2433.58,591.90) scale(0.9127,1.0)" font-family="'Liberation Serif', serif" font-weight="bold" fill="#000" stroke="#000" stroke-width="1.0" stroke-linejoin="round" style="font-kerning:none;font-variant-ligatures:none;"><text x="0.00" y="0.00" font-size="70.00">n-</text><text x="62.24" y="0.00" font-size="70.00">C</text><text x="112.79" y="19.60" font-size="46.20">4</text><text x="135.89" y="0.00" font-size="70.00">H</text><text x="190.34" y="19.60" font-size="46.20">8</text></g>
<polyline points="2330.0,679.5 2417.5,679.5" fill="none" stroke="#868600" stroke-width="11.7" stroke-linejoin="round" stroke-linecap="round"/>
<ellipse cx="2373.6" cy="678.9" rx="12.79" ry="14.7" fill="#868600"/><ellipse cx="2369.6" cy="675.1" rx="6.09" ry="7.0" fill="url(#g_olive)"/>
<g transform="translate(2433.90,694.30) scale(0.9098,1.0)" font-family="'Liberation Serif', serif" font-weight="bold" fill="#000" stroke="#000" stroke-width="1.0" stroke-linejoin="round" style="font-kerning:none;font-variant-ligatures:none;"><text x="0.00" y="0.00" font-size="70.00">iso-</text><text x="105.00" y="0.00" font-size="70.00">C</text><text x="155.55" y="19.60" font-size="46.20">4</text><text x="178.65" y="0.00" font-size="70.00">H</text><text x="233.10" y="19.60" font-size="46.20">8</text></g>
<polyline points="2329.9,781.8 2417.8,781.8" fill="none" stroke="#ff8210" stroke-width="11.7" stroke-linejoin="round" stroke-linecap="butt"/>
<ellipse cx="2373.6" cy="781.2" rx="12.79" ry="14.7" fill="#ff8210"/><ellipse cx="2369.6" cy="777.4" rx="6.09" ry="7.0" fill="url(#g_orange)"/>
<g transform="translate(2433.59,796.50) scale(0.9098,1.0)" font-family="'Liberation Serif', serif" font-weight="bold" fill="#000" stroke="#000" stroke-width="1.0" stroke-linejoin="round" style="font-kerning:none;font-variant-ligatures:none;"><text x="0.00" y="0.00" font-size="70.00">n-</text><text x="62.24" y="0.00" font-size="70.00">C</text><text x="112.79" y="19.60" font-size="46.20">4</text><text x="135.89" y="0.00" font-size="70.00">H</text><text x="190.34" y="19.60" font-size="46.20">10</text></g>
<polyline points="2329.9,884.1 2417.8,884.1" fill="none" stroke="#7800c8" stroke-width="11.7" stroke-linejoin="round" stroke-linecap="butt"/>
<ellipse cx="2373.6" cy="883.5" rx="12.79" ry="14.7" fill="#7800c8"/><ellipse cx="2369.6" cy="879.7" rx="6.09" ry="7.0" fill="url(#g_purple)"/>
<g transform="translate(2433.90,898.90) scale(0.9091,1.0)" font-family="'Liberation Serif', serif" font-weight="bold" fill="#000" stroke="#000" stroke-width="1.0" stroke-linejoin="round" style="font-kerning:none;font-variant-ligatures:none;"><text x="0.00" y="0.00" font-size="70.00">iso-</text><text x="105.00" y="0.00" font-size="70.00">C</text><text x="155.55" y="19.60" font-size="46.20">4</text><text x="178.65" y="0.00" font-size="70.00">H</text><text x="233.10" y="19.60" font-size="46.20">10</text></g>
<g transform="translate(1459.60,115.70) scale(0.9959,1.0)" font-family="'Liberation Serif', serif" font-weight="normal" fill="#000" stroke="#000" stroke-width="0.8" stroke-linejoin="round" style="font-kerning:none;font-variant-ligatures:none;"><text x="0.00" y="0.00" font-size="170.00">b</text></g>
<rect x="207.8" y="2187.6" width="16.2" height="9.8" fill="#000"/>
<rect x="207.8" y="2062.4" width="16.2" height="9.8" fill="#000"/>
<rect x="207.8" y="1937.2" width="16.2" height="9.8" fill="#000"/>
<rect x="207.8" y="1812.0" width="16.2" height="9.8" fill="#000"/>
<rect x="207.8" y="1686.8" width="16.2" height="9.8" fill="#000"/>
<rect x="207.8" y="1561.7" width="16.2" height="9.8" fill="#000"/>
<rect x="207.8" y="1436.5" width="16.2" height="9.8" fill="#000"/>
<rect x="439.8" y="2185.8" width="9.0" height="16.2" fill="#000"/>
<rect x="680.5" y="2185.8" width="9.0" height="16.2" fill="#000"/>
<rect x="921.2" y="2185.8" width="9.0" height="16.2" fill="#000"/>
<rect x="1161.9" y="2185.8" width="9.0" height="16.2" fill="#000"/>
<rect x="203.1" y="1333.8" width="9.5" height="868.2" fill="#000"/><rect x="1281.8" y="1333.8" width="9.5" height="873.0" fill="#000"/><rect x="207.8" y="1329.0" width="1078.7" height="9.5" fill="#000"/><rect x="207.8" y="2197.2" width="1078.7" height="9.5" fill="#000"/>
<g transform="translate(159.86,2212.30) scale(0.9150,1.0)" font-family="'Liberation Serif', serif" font-weight="bold" fill="#000" stroke="#000" stroke-width="1.0" stroke-linejoin="round" style="font-kerning:none;font-variant-ligatures:none;"><text x="0.00" y="0.00" font-size="68.00">0</text></g>
<g transform="translate(159.01,2087.11) scale(0.9150,1.0)" font-family="'Liberation Serif', serif" font-weight="bold" fill="#000" stroke="#000" stroke-width="1.0" stroke-linejoin="round" style="font-kerning:none;font-variant-ligatures:none;"><text x="0.00" y="0.00" font-size="68.00">7</text></g>
<g transform="translate(127.53,1961.92) scale(0.9150,1.0)" font-family="'Liberation Serif', serif" font-weight="bold" fill="#000" stroke="#000" stroke-width="1.0" stroke-linejoin="round" style="font-kerning:none;font-variant-ligatures:none;"><text x="0.00" y="0.00" font-size="68.00">14</text></g>
<g transform="translate(129.60,1836.74) scale(0.9150,1.0)" font-family="'Liberation Serif', serif" font-weight="bold" fill="#000" stroke="#000" stroke-width="1.0" stroke-linejoin="round" style="font-kerning:none;font-variant-ligatures:none;"><text x="0.00" y="0.00" font-size="68.00">21</text></g>
<g transform="translate(128.45,1711.55) scale(0.9150,1.0)" font-family="'Liberation Serif', serif" font-weight="bold" fill="#000" stroke="#000" stroke-width="1.0" stroke-linejoin="round" style="font-kerning:none;font-variant-ligatures:none;"><text x="0.00" y="0.00" font-size="68.00">28</text></g>
<g transform="translate(128.66,1586.36) scale(0.9150,1.0)" font-family="'Liberation Serif', serif" font-weight="bold" fill="#000" stroke="#000" stroke-width="1.0" stroke-linejoin="round" style="font-kerning:none;font-variant-ligatures:none;"><text x="0.00" y="0.00" font-size="68.00">35</text></g>
<g transform="translate(129.05,1461.17) scale(0.9150,1.0)" font-family="'Liberation Serif', serif" font-weight="bold" fill="#000" stroke="#000" stroke-width="1.0" stroke-linejoin="round" style="font-kerning:none;font-variant-ligatures:none;"><text x="0.00" y="0.00" font-size="68.00">42</text></g>
<g transform="translate(413.57,2272.50) scale(0.9150,1.0)" font-family="'Liberation Serif', serif" font-weight="bold" fill="#000" stroke="#000" stroke-width="1.0" stroke-linejoin="round" style="font-kerning:none;font-variant-ligatures:none;"><text x="0.00" y="0.00" font-size="68.00">20</text></g>
<g transform="translate(655.15,2272.50) scale(0.9150,1.0)" font-family="'Liberation Serif', serif" font-weight="bold" fill="#000" stroke="#000" stroke-width="1.0" stroke-linejoin="round" style="font-kerning:none;font-variant-ligatures:none;"><text x="0.00" y="0.00" font-size="68.00">40</text></g>
<g transform="translate(895.21,2272.50) scale(0.9150,1.0)" font-family="'Liberation Serif', serif" font-weight="bold" fill="#000" stroke="#000" stroke-width="1.0" stroke-linejoin="round" style="font-kerning:none;font-variant-ligatures:none;"><text x="0.00" y="0.00" font-size="68.00">60</text></g>
<g transform="translate(1135.94,2272.50) scale(0.9150,1.0)" font-family="'Liberation Serif', serif" font-weight="bold" fill="#000" stroke="#000" stroke-width="1.0" stroke-linejoin="round" style="font-kerning:none;font-variant-ligatures:none;"><text x="0.00" y="0.00" font-size="68.00">80</text></g>
<ellipse cx="592.5" cy="1477.0" rx="16.92" ry="17.9" fill="#000000"/><ellipse cx="587.8" cy="1472.0" rx="8.79" ry="9.3" fill="url(#g_black)"/>
<g transform="translate(464.15,1580.80) scale(0.8893,1.0)" font-family="'Liberation Serif', serif" font-weight="bold" fill="#000" stroke="#000" stroke-width="1.0" stroke-linejoin="round" style="font-kerning:none;font-variant-ligatures:none;"><text x="0.00" y="0.00" font-size="76.00">Mn-bpdc</text></g>
<polygon points="799.9,1429.5 806.4,1451.3 827.3,1451.3 810.4,1464.7 816.8,1486.5 799.9,1473.0 783.0,1486.5 789.4,1464.7 772.5,1451.3 793.4,1451.3" fill="#f50f0f" stroke="#f50f0f" stroke-width="3.4" stroke-linejoin="round"/>
<g transform="translate(847.41,1493.20) scale(0.9089,1.0)" font-family="'Liberation Serif', serif" font-weight="bold" fill="#000" stroke="#000" stroke-width="1.0" stroke-linejoin="round" style="font-kerning:none;font-variant-ligatures:none;"><text x="0.00" y="0.00" font-size="74.50">Y-abtc</text></g>
<ellipse cx="684.1" cy="1793.8" rx="16.92" ry="17.9" fill="#fa05cd"/><ellipse cx="679.4" cy="1788.8" rx="8.79" ry="9.3" fill="url(#g_pink)"/>
<g transform="translate(726.87,1815.90) scale(0.8981,1.0)" font-family="'Liberation Serif', serif" font-weight="bold" fill="#000" stroke="#000" stroke-width="1.0" stroke-linejoin="round" style="font-kerning:none;font-variant-ligatures:none;"><text x="0.00" y="0.00" font-size="76.00">SD-65</text></g>
<ellipse cx="578.1" cy="2149.9" rx="16.92" ry="17.9" fill="#0a0ac4"/><ellipse cx="573.4" cy="2144.9" rx="8.79" ry="9.3" fill="url(#g_blue)"/>
<g transform="translate(250.21,2174.30) scale(0.8919,1.0)" font-family="'Liberation Serif', serif" font-weight="bold" fill="#000" stroke="#000" stroke-width="1.0" stroke-linejoin="round" style="font-kerning:none;font-variant-ligatures:none;"><text x="0.00" y="0.00" font-size="76.00">Ni-gallate</text></g>
<ellipse cx="705.9" cy="2154.9" rx="16.92" ry="17.9" fill="#820082"/><ellipse cx="701.2" cy="2149.9" rx="8.79" ry="9.3" fill="url(#g_violet)"/>
<g transform="translate(542.68,2109.60) scale(0.8945,1.0)" font-family="'Liberation Serif', serif" font-weight="bold" fill="#000" stroke="#000" stroke-width="1.0" stroke-linejoin="round" style="font-kerning:none;font-variant-ligatures:none;"><text x="0.00" y="0.00" font-size="76.00">Co-gallate</text></g>
<ellipse cx="947.5" cy="2106.3" rx="16.92" ry="17.9" fill="#fa05cd"/><ellipse cx="942.8" cy="2101.3" rx="8.79" ry="9.3" fill="url(#g_pink)"/>
<g transform="translate(778.97,2054.20) scale(0.8975,1.0)" font-family="'Liberation Serif', serif" font-weight="bold" fill="#000" stroke="#000" stroke-width="1.0" stroke-linejoin="round" style="font-kerning:none;font-variant-ligatures:none;"><text x="0.00" y="0.00" font-size="76.00">GeFSIX-14-Cu-i</text></g>
<g transform="translate(484.09,2374.00) scale(0.9214,1.0)" font-family="'Liberation Serif', serif" font-weight="bold" fill="#000" stroke="#000" stroke-width="1.0" stroke-linejoin="round" style="font-kerning:none;font-variant-ligatures:none;"><text x="0.00" y="0.00" font-size="73.50">C</text><text x="53.08" y="22.79" font-size="48.51">4</text><text x="77.33" y="0.00" font-size="73.50">H</text><text x="134.50" y="22.79" font-size="48.51">6</text><text x="158.76" y="0.00" font-size="73.50">&#160;uptake&#160;(cm</text><text x="530.32" y="-34.54" font-size="48.51">3</text><text x="554.57" y="0.00" font-size="73.50">/g)</text></g>
<g transform="translate(61.80,2171.27) rotate(-90) scale(0.9555,0.965)" font-family="'Liberation Serif', serif" font-weight="bold" fill="#000" stroke="#000" stroke-width="1.0" stroke-linejoin="round" style="font-kerning:none;font-variant-ligatures:none;"><text x="0.00" y="0.00" font-size="70.00">C</text><text x="50.55" y="23.10" font-size="42.00">4</text><text x="71.55" y="0.00" font-size="70.00">H</text><text x="126.00" y="23.10" font-size="42.00">6</text><text x="147.00" y="0.00" font-size="70.00">/&#160;n-</text><text x="246.19" y="0.00" font-size="70.00">C</text><text x="296.74" y="23.10" font-size="42.00">4</text><text x="317.74" y="0.00" font-size="70.00">H</text><text x="372.19" y="23.10" font-size="42.00">8</text></g>
<g transform="translate(61.80,1769.92) rotate(-90) scale(1.0542,0.965)" font-family="'Liberation Serif', serif" font-weight="bold" fill="#000" stroke="#000" stroke-width="1.0" stroke-linejoin="round" style="font-kerning:none;font-variant-ligatures:none;"><text x="0.00" y="0.00" font-size="70.00">uptake&#160;ratio</text></g>
<g transform="translate(-0.43,1293.00) scale(1.0206,1.0)" font-family="'Liberation Serif', serif" font-weight="normal" fill="#000" stroke="#000" stroke-width="0.8" stroke-linejoin="round" style="font-kerning:none;font-variant-ligatures:none;"><text x="0.00" y="0.00" font-size="168.00">c</text></g>
<rect x="1672.5" y="2185.1" width="16.2" height="9.8" fill="#000"/>
<rect x="1672.5" y="2075.0" width="16.2" height="9.8" fill="#000"/>
<rect x="1672.5" y="1964.9" width="16.2" height="9.8" fill="#000"/>
<rect x="1672.5" y="1854.8" width="16.2" height="9.8" fill="#000"/>
<rect x="1672.5" y="1744.7" width="16.2" height="9.8" fill="#000"/>
<rect x="1672.5" y="1634.7" width="16.2" height="9.8" fill="#000"/>
<rect x="1672.5" y="1524.6" width="16.2" height="9.8" fill="#000"/>
<rect x="1672.5" y="1414.5" width="16.2" height="9.8" fill="#000"/>
<rect x="1904.3" y="2185.7" width="9.0" height="16.2" fill="#000"/>
<rect x="2145.0" y="2185.7" width="9.0" height="16.2" fill="#000"/>
<rect x="2385.7" y="2185.7" width="9.0" height="16.2" fill="#000"/>
<rect x="2626.4" y="2185.7" width="9.0" height="16.2" fill="#000"/>
<rect x="1667.8" y="1333.9" width="9.5" height="868.0" fill="#000"/><rect x="2746.7" y="1333.9" width="9.5" height="872.8" fill="#000"/><rect x="1672.5" y="1329.2" width="1078.9" height="9.5" fill="#000"/><rect x="1672.5" y="2197.2" width="1078.9" height="9.5" fill="#000"/>
<g transform="translate(1624.86,2209.30) scale(0.9150,1.0)" font-family="'Liberation Serif', serif" font-weight="bold" fill="#000" stroke="#000" stroke-width="1.0" stroke-linejoin="round" style="font-kerning:none;font-variant-ligatures:none;"><text x="0.00" y="0.00" font-size="68.00">0</text></g>
<g transform="translate(1624.74,2099.21) scale(0.9150,1.0)" font-family="'Liberation Serif', serif" font-weight="bold" fill="#000" stroke="#000" stroke-width="1.0" stroke-linejoin="round" style="font-kerning:none;font-variant-ligatures:none;"><text x="0.00" y="0.00" font-size="68.00">9</text></g>
<g transform="translate(1593.45,1989.12) scale(0.9150,1.0)" font-family="'Liberation Serif', serif" font-weight="bold" fill="#000" stroke="#000" stroke-width="1.0" stroke-linejoin="round" style="font-kerning:none;font-variant-ligatures:none;"><text x="0.00" y="0.00" font-size="68.00">18</text></g>
<g transform="translate(1592.90,1879.04) scale(0.9150,1.0)" font-family="'Liberation Serif', serif" font-weight="bold" fill="#000" stroke="#000" stroke-width="1.0" stroke-linejoin="round" style="font-kerning:none;font-variant-ligatures:none;"><text x="0.00" y="0.00" font-size="68.00">27</text></g>
<g transform="translate(1593.20,1768.95) scale(0.9150,1.0)" font-family="'Liberation Serif', serif" font-weight="bold" fill="#000" stroke="#000" stroke-width="1.0" stroke-linejoin="round" style="font-kerning:none;font-variant-ligatures:none;"><text x="0.00" y="0.00" font-size="68.00">36</text></g>
<g transform="translate(1593.66,1658.86) scale(0.9150,1.0)" font-family="'Liberation Serif', serif" font-weight="bold" fill="#000" stroke="#000" stroke-width="1.0" stroke-linejoin="round" style="font-kerning:none;font-variant-ligatures:none;"><text x="0.00" y="0.00" font-size="68.00">45</text></g>
<g transform="translate(1592.53,1548.77) scale(0.9150,1.0)" font-family="'Liberation Serif', serif" font-weight="bold" fill="#000" stroke="#000" stroke-width="1.0" stroke-linejoin="round" style="font-kerning:none;font-variant-ligatures:none;"><text x="0.00" y="0.00" font-size="68.00">54</text></g>
<g transform="translate(1593.51,1438.68) scale(0.9150,1.0)" font-family="'Liberation Serif', serif" font-weight="bold" fill="#000" stroke="#000" stroke-width="1.0" stroke-linejoin="round" style="font-kerning:none;font-variant-ligatures:none;"><text x="0.00" y="0.00" font-size="68.00">63</text></g>
<g transform="translate(1878.07,2272.00) scale(0.9150,1.0)" font-family="'Liberation Serif', serif" font-weight="bold" fill="#000" stroke="#000" stroke-width="1.0" stroke-linejoin="round" style="font-kerning:none;font-variant-ligatures:none;"><text x="0.00" y="0.00" font-size="68.00">20</text></g>
<g transform="translate(2119.65,2272.00) scale(0.9150,1.0)" font-family="'Liberation Serif', serif" font-weight="bold" fill="#000" stroke="#000" stroke-width="1.0" stroke-linejoin="round" style="font-kerning:none;font-variant-ligatures:none;"><text x="0.00" y="0.00" font-size="68.00">40</text></g>
<g transform="translate(2359.71,2272.00) scale(0.9150,1.0)" font-family="'Liberation Serif', serif" font-weight="bold" fill="#000" stroke="#000" stroke-width="1.0" stroke-linejoin="round" style="font-kerning:none;font-variant-ligatures:none;"><text x="0.00" y="0.00" font-size="68.00">60</text></g>
<g transform="translate(2600.44,2272.00) scale(0.9150,1.0)" font-family="'Liberation Serif', serif" font-weight="bold" fill="#000" stroke="#000" stroke-width="1.0" stroke-linejoin="round" style="font-kerning:none;font-variant-ligatures:none;"><text x="0.00" y="0.00" font-size="68.00">80</text></g>
<polygon points="2264.0,1386.7 2270.5,1408.5 2291.4,1408.5 2274.5,1421.9 2280.9,1443.7 2264.0,1430.2 2247.1,1443.7 2253.5,1421.9 2236.6,1408.5 2257.5,1408.5" fill="#f50f0f" stroke="#f50f0f" stroke-width="3.4" stroke-linejoin="round"/>
<g transform="translate(2299.11,1438.80) scale(0.9151,1.0)" font-family="'Liberation Serif', serif" font-weight="bold" fill="#000" stroke="#000" stroke-width="1.0" stroke-linejoin="round" style="font-kerning:none;font-variant-ligatures:none;"><text x="0.00" y="0.00" font-size="74.00">Y-abtc</text></g>
<ellipse cx="2057.0" cy="1639.6" rx="16.92" ry="17.9" fill="#000000"/><ellipse cx="2052.3" cy="1634.6" rx="8.79" ry="9.3" fill="url(#g_black)"/>
<g transform="translate(2077.45,1661.90) scale(0.9088,1.0)" font-family="'Liberation Serif', serif" font-weight="bold" fill="#000" stroke="#000" stroke-width="1.0" stroke-linejoin="round" style="font-kerning:none;font-variant-ligatures:none;"><text x="0.00" y="0.00" font-size="74.00">Mn-bpdc</text></g>
<ellipse cx="2148.8" cy="1879.0" rx="16.92" ry="17.9" fill="#800000"/><ellipse cx="2144.1" cy="1874.0" rx="8.79" ry="9.3" fill="url(#g_dred)"/>
<g transform="translate(2188.37,1913.30) scale(0.9213,1.0)" font-family="'Liberation Serif', serif" font-weight="bold" fill="#000" stroke="#000" stroke-width="1.0" stroke-linejoin="round" style="font-kerning:none;font-variant-ligatures:none;"><text x="0.00" y="0.00" font-size="74.00">SD-65</text></g>
<ellipse cx="2042.7" cy="2001.2" rx="16.92" ry="17.9" fill="#820082"/><ellipse cx="2038.0" cy="1996.2" rx="8.79" ry="9.3" fill="url(#g_violet)"/>
<g transform="translate(1797.71,1962.10) scale(0.9160,1.0)" font-family="'Liberation Serif', serif" font-weight="bold" fill="#000" stroke="#000" stroke-width="1.0" stroke-linejoin="round" style="font-kerning:none;font-variant-ligatures:none;"><text x="0.00" y="0.00" font-size="74.00">Ni-gallate</text></g>
<ellipse cx="2196.1" cy="2004.6" rx="16.92" ry="17.9" fill="#0a0ac4"/><ellipse cx="2191.4" cy="1999.6" rx="8.79" ry="9.3" fill="url(#g_blue)"/>
<ellipse cx="2170.3" cy="2014.7" rx="16.92" ry="17.9" fill="#fa05cd"/><ellipse cx="2165.6" cy="2009.7" rx="8.79" ry="9.3" fill="url(#g_pink)"/>
<g transform="translate(2224.85,2030.80) scale(0.9115,1.0)" font-family="'Liberation Serif', serif" font-weight="bold" fill="#000" stroke="#000" stroke-width="1.0" stroke-linejoin="round" style="font-kerning:none;font-variant-ligatures:none;"><text x="0.00" y="0.00" font-size="74.00">Mg-gallate</text></g>
<g transform="translate(1964.99,2107.30) scale(0.9149,1.0)" font-family="'Liberation Serif', serif" font-weight="bold" fill="#000" stroke="#000" stroke-width="1.0" stroke-linejoin="round" style="font-kerning:none;font-variant-ligatures:none;"><text x="0.00" y="0.00" font-size="74.00">Co-gallate</text></g>
<g transform="translate(1891.48,2349.00) scale(0.9245,1.0)" font-family="'Liberation Serif', serif" font-weight="bold" fill="#000" stroke="#000" stroke-width="1.0" stroke-linejoin="round" style="font-kerning:none;font-variant-ligatures:none;"><text x="0.00" y="0.00" font-size="73.50">C</text><text x="53.08" y="22.79" font-size="48.51">4</text><text x="77.33" y="0.00" font-size="73.50">H</text><text x="134.50" y="22.79" font-size="48.51">6</text><text x="158.76" y="0.00" font-size="73.50">&#160;uptake&#160;(cm</text><text x="530.32" y="-34.54" font-size="48.51">3</text><text x="554.57" y="0.00" font-size="73.50">/g)</text></g>
<g transform="translate(1526.00,2179.77) rotate(-90) scale(0.9556,0.965)" font-family="'Liberation Serif', serif" font-weight="bold" fill="#000" stroke="#000" stroke-width="1.0" stroke-linejoin="round" style="font-kerning:none;font-variant-ligatures:none;"><text x="0.00" y="0.00" font-size="70.00">C</text><text x="50.55" y="23.10" font-size="42.00">4</text><text x="71.55" y="0.00" font-size="70.00">H</text><text x="126.00" y="23.10" font-size="42.00">6</text><text x="147.00" y="0.00" font-size="70.00">/&#160;iso-</text><text x="288.95" y="0.00" font-size="70.00">C</text><text x="339.50" y="23.10" font-size="42.00">4</text><text x="360.50" y="0.00" font-size="70.00">H</text><text x="414.95" y="23.10" font-size="42.00">8</text></g>
<g transform="translate(1526.00,1742.53) rotate(-90) scale(1.0652,0.965)" font-family="'Liberation Serif', serif" font-weight="bold" fill="#000" stroke="#000" stroke-width="1.0" stroke-linejoin="round" style="font-kerning:none;font-variant-ligatures:none;"><text x="0.00" y="0.00" font-size="70.00">uptake&#160;ratio</text></g>
<g transform="translate(1458.44,1292.90) scale(1.0185,1.0)" font-family="'Liberation Serif', serif" font-weight="normal" fill="#000" stroke="#000" stroke-width="0.8" stroke-linejoin="round" style="font-kerning:none;font-variant-ligatures:none;"><text x="0.00" y="0.00" font-size="170.00">d</text></g>
</svg>
</body></html>
